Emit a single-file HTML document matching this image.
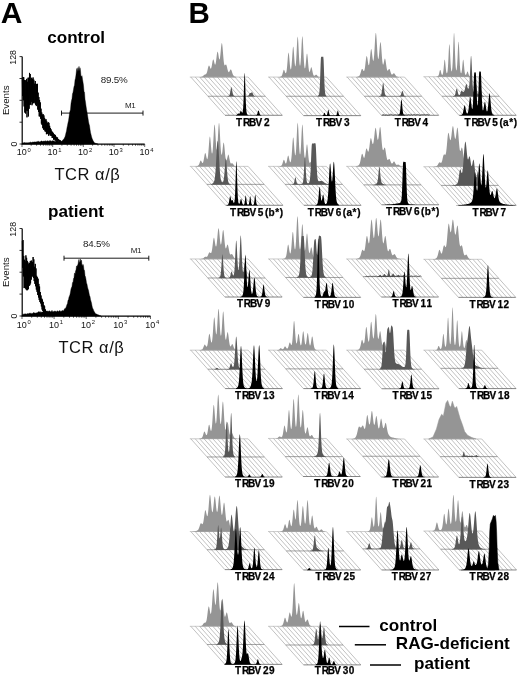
<!DOCTYPE html>
<html><head><meta charset="utf-8"><title>Figure</title>
<style>html,body{margin:0;padding:0;background:#fff}svg{display:block}text{font-family:'Liberation Sans', Arial, Helvetica, sans-serif}</style>
</head><body>
<svg width="520" height="677" viewBox="0 0 520 677" font-family="'Liberation Sans', Arial, Helvetica, sans-serif">
<rect width="520" height="677" fill="#fff"/>
<text x="0.7" y="23.1" font-size="30" font-weight="bold">A</text>
<text x="188.6" y="22.9" font-size="29.5" font-weight="bold">B</text>
<path d="M22.2 56.6V144.1H144.7" fill="none" stroke="#000" stroke-width="1.2"/>
<path d="M19.5 56.6H22M19.5 78.5H22M19.5 100.3H22M19.5 122.2H22M19.5 144.0H22" stroke="#000" stroke-width="0.8" fill="none"/>
<path d="M22.0 144v3M31.2 144v1.8M36.6 144v1.8M40.5 144v1.8M43.4 144v1.8M45.9 144v1.8M47.9 144v1.8M49.7 144v1.8M51.3 144v1.8M52.7 144v3M61.9 144v1.8M67.3 144v1.8M71.1 144v1.8M74.1 144v1.8M76.5 144v1.8M78.6 144v1.8M80.4 144v1.8M81.9 144v1.8M83.3 144v3M92.6 144v1.8M98.0 144v1.8M101.8 144v1.8M104.8 144v1.8M107.2 144v1.8M109.3 144v1.8M111.1 144v1.8M112.6 144v1.8M114.0 144v3M123.3 144v1.8M128.7 144v1.8M132.5 144v1.8M135.5 144v1.8M137.9 144v1.8M139.9 144v1.8M141.7 144v1.8M143.3 144v1.8M144.7 144v3" stroke="#000" stroke-width="0.6" fill="none"/>
<path d="M22.30 79.28 L22.66 96.04 L23.02 76.98 L23.38 100.32 L23.74 77.19 L24.10 106.44 L24.46 79.98 L24.82 112.57 L25.18 80.12 L25.54 113.47 L25.90 80.68 L26.26 110.68 L26.62 78.88 L26.98 117.33 L27.34 81.80 L27.70 110.96 L28.06 77.73 L28.42 116.45 L28.78 77.77 L29.14 108.77 L29.50 72.92 L29.86 105.06 L30.22 73.97 L30.58 104.52 L30.94 79.24 L31.30 101.94 L31.66 77.78 L32.02 105.24 L32.38 78.93 L32.74 103.77 L33.10 77.47 L33.46 102.96 L33.82 79.72 L34.18 102.27 L34.54 83.69 L34.90 103.31 L35.26 81.03 L35.62 104.77 L35.98 84.04 L36.34 106.09 L36.70 83.91 L37.06 104.71 L37.42 83.83 L37.78 109.61 L38.14 92.66 L38.50 111.86 L38.86 97.06 L39.22 116.36 L39.58 99.97 L39.94 116.45 L40.30 102.41 L40.66 118.78 L41.02 108.68 L41.38 123.62 L41.74 112.50 L42.10 125.04 L42.46 114.62 L42.82 128.19 L43.18 114.17 L43.54 129.59 L43.90 115.39 L44.26 129.58 L44.62 117.92 L44.98 131.35 L45.34 119.57 L45.70 131.61 L46.06 119.27 L46.42 134.23 L46.78 121.36 L47.14 133.58 L47.50 122.98 L47.86 134.11 L48.22 122.13 L48.58 135.68 L48.94 122.88 L49.30 133.86 L49.66 125.84 L50.02 135.38 L50.38 127.96 L50.74 135.65 L51.10 129.41 L51.46 136.00 L51.82 131.11 L52.18 137.96 L52.54 132.13 L52.90 137.80 L53.26 132.82 L53.62 139.66 L53.98 134.15 L54.34 139.33 L54.70 134.58 L55.06 140.46 L55.42 135.16 L55.78 140.81 L56.14 136.68 L56.50 140.64 L56.86 137.42 L57.22 141.56 L57.58 137.60 L57.94 141.14 L58.30 139.09 L58.66 141.46 L59.02 139.74 L59.38 141.80 L59.74 139.99 L60.10 141.89 L60.46 140.63 L60.82 142.15" fill="none" stroke="#000" stroke-width="1.0" stroke-linejoin="miter"/>
<path d="M22.00 144.00 L22.00 143.37 L22.50 143.06 L23.00 143.01 L23.50 142.84 L24.00 142.48 L24.50 142.47 L25.00 142.70 L25.50 142.78 L26.00 142.84 L26.50 142.75 L27.00 142.68 L27.50 142.79 L28.00 142.69 L28.50 142.64 L29.00 142.43 L29.50 142.54 L30.00 142.48 L30.50 142.07 L31.00 142.31 L31.50 142.52 L32.00 142.33 L32.50 142.04 L33.00 142.32 L33.50 142.12 L34.00 142.09 L34.50 141.88 L35.00 141.68 L35.50 142.07 L36.00 142.02 L36.50 141.73 L37.00 141.93 L37.50 141.39 L38.00 141.35 L38.50 141.34 L39.00 141.78 L39.50 141.74 L40.00 141.89 L40.50 141.60 L41.00 141.07 L41.50 140.90 L42.00 141.01 L42.50 141.59 L43.00 141.58 L43.50 141.03 L44.00 140.92 L44.50 140.96 L45.00 141.46 L45.50 140.68 L46.00 140.88 L46.50 141.29 L47.00 141.13 L47.50 140.65 L48.00 141.00 L48.50 140.91 L49.00 141.42 L49.50 140.54 L50.00 141.24 L50.50 140.52 L51.00 141.12 L51.50 141.45 L52.00 140.53 L52.50 140.86 L53.00 140.96 L53.50 140.79 L54.00 141.28 L54.50 141.21 L55.00 141.24 L55.50 141.23 L56.00 141.14 L56.50 140.81 L57.00 140.96 L57.50 140.99 L58.00 141.11 L58.50 141.14 L59.00 141.38 L59.50 141.30 L60.00 140.78 L60.50 141.15 L61.00 140.87 L61.50 141.34 L62.00 141.19 L62.50 140.37 L63.00 140.06 L63.50 139.30 L64.00 138.80 L64.50 137.83 L65.00 136.75 L65.50 134.88 L66.00 132.81 L66.50 131.01 L67.00 127.66 L67.50 125.49 L68.00 122.79 L68.50 120.81 L69.00 117.21 L69.50 113.34 L70.00 111.16 L70.50 109.57 L71.00 103.50 L71.50 100.43 L72.00 98.76 L72.50 93.69 L73.00 92.40 L73.50 89.51 L74.00 86.58 L74.50 85.19 L75.00 80.11 L75.50 78.28 L76.00 74.87 L76.50 69.93 L77.00 68.33 L77.50 71.78 L78.00 67.55 L78.50 71.53 L79.00 66.31 L79.50 71.19 L80.00 67.75 L80.50 70.59 L81.00 76.48 L81.50 76.25 L82.00 75.73 L82.50 79.32 L83.00 82.21 L83.50 85.51 L84.00 91.43 L84.50 92.18 L85.00 99.23 L85.50 102.15 L86.00 105.95 L86.50 109.16 L87.00 111.99 L87.50 114.98 L88.00 118.29 L88.50 121.43 L89.00 124.00 L89.50 125.52 L90.00 129.36 L90.50 132.40 L91.00 134.54 L91.50 136.42 L92.00 138.33 L92.50 139.35 L93.00 140.62 L93.50 141.37 L94.00 142.16 L94.50 142.76 L95.00 143.03 L95.50 143.26 L96.00 143.44 L96.50 143.51 L97.00 143.76 L97.50 143.88 L98.00 144.00 L98.00 144.00Z" fill="#000" stroke="#000" stroke-width="0.4"/>
<path d="M61.5 113.1H143M61.5 110.6v5M143 110.6v5" stroke="#000" stroke-width="0.9" fill="none"/>
<text x="100.8" y="82.5" font-size="9.8" fill="#222" textLength="27" lengthAdjust="spacing">89.5%</text>
<text x="125" y="108" font-size="8" fill="#222" textLength="10.6" lengthAdjust="spacing">M1</text>
<text x="47.2" y="43.2" font-size="17.1" font-weight="bold">control</text>
<text x="16.8" y="155.4" font-size="9" fill="#111">10<tspan dy="-3.6" dx="0.8" font-size="5.8">0</tspan></text>
<text x="47.5" y="155.4" font-size="9" fill="#111">10<tspan dy="-3.6" dx="0.8" font-size="5.8">1</tspan></text>
<text x="78.1" y="155.4" font-size="9" fill="#111">10<tspan dy="-3.6" dx="0.8" font-size="5.8">2</tspan></text>
<text x="108.8" y="155.4" font-size="9" fill="#111">10<tspan dy="-3.6" dx="0.8" font-size="5.8">3</tspan></text>
<text x="139.5" y="155.4" font-size="9" fill="#111">10<tspan dy="-3.6" dx="0.8" font-size="5.8">4</tspan></text>
<text x="54.5" y="180" font-size="16.5" fill="#111" textLength="65.3" lengthAdjust="spacing">TCR α/β</text>
<text transform="translate(16.2,57.4) rotate(-90)" text-anchor="middle" font-size="8.8" fill="#111">128</text>
<text transform="translate(16.5,144) rotate(-90)" text-anchor="middle" font-size="8.8" fill="#111">0</text>
<text transform="translate(8.7,100.3) rotate(-90)" text-anchor="middle" font-size="9.7" fill="#111">Events</text>
<path d="M22.2 228.5V316.1H150.5" fill="none" stroke="#000" stroke-width="1.2"/>
<path d="M19.5 228.5H22M19.5 250.4H22M19.5 272.2H22M19.5 294.1H22M19.5 316.0H22" stroke="#000" stroke-width="0.8" fill="none"/>
<path d="M22.0 316v3M31.7 316v1.8M37.3 316v1.8M41.3 316v1.8M44.5 316v1.8M47.0 316v1.8M49.1 316v1.8M51.0 316v1.8M52.7 316v1.8M54.1 316v3M63.8 316v1.8M69.5 316v1.8M73.5 316v1.8M76.6 316v1.8M79.1 316v1.8M81.3 316v1.8M83.1 316v1.8M84.8 316v1.8M86.2 316v3M95.9 316v1.8M101.6 316v1.8M105.6 316v1.8M108.7 316v1.8M111.2 316v1.8M113.4 316v1.8M115.3 316v1.8M116.9 316v1.8M118.4 316v3M128.0 316v1.8M133.7 316v1.8M137.7 316v1.8M140.8 316v1.8M143.4 316v1.8M145.5 316v1.8M147.4 316v1.8M149.0 316v1.8M150.5 316v3" stroke="#000" stroke-width="0.6" fill="none"/>
<path d="M22.30 241.06 L22.66 267.73 L23.02 240.05 L23.38 276.45 L23.74 255.88 L24.10 288.11 L24.46 259.76 L24.82 287.88 L25.18 261.26 L25.54 288.55 L25.90 255.37 L26.26 289.69 L26.62 257.82 L26.98 290.35 L27.34 260.91 L27.70 290.04 L28.06 262.50 L28.42 289.05 L28.78 264.16 L29.14 286.01 L29.50 263.03 L29.86 285.15 L30.22 261.32 L30.58 283.40 L30.94 260.77 L31.30 279.62 L31.66 260.61 L32.02 275.94 L32.38 262.02 L32.74 276.67 L33.10 257.01 L33.46 278.00 L33.82 259.33 L34.18 281.07 L34.54 266.80 L34.90 283.86 L35.26 263.88 L35.62 286.27 L35.98 268.41 L36.34 289.57 L36.70 275.82 L37.06 291.85 L37.42 277.27 L37.78 295.04 L38.14 278.70 L38.50 297.44 L38.86 283.91 L39.22 299.98 L39.58 286.54 L39.94 302.06 L40.30 292.06 L40.66 303.46 L41.02 295.48 L41.38 306.43 L41.74 298.53 L42.10 309.54 L42.46 299.54 L42.82 311.05 L43.18 301.87 L43.54 312.51 L43.90 305.02 L44.26 313.23 L44.62 306.27 L44.98 315.34 L45.34 309.37 L45.70 315.41 L46.06 311.03 L46.42 315.45 L46.78 312.95 L47.14 315.80 L47.50 314.65 L47.86 316.00" fill="none" stroke="#000" stroke-width="1.0" stroke-linejoin="miter"/>
<path d="M22.00 316.00 L22.00 314.96 L22.50 314.60 L23.00 314.51 L23.50 314.21 L24.00 313.77 L24.50 313.93 L25.00 314.17 L25.50 313.77 L26.00 313.90 L26.50 314.14 L27.00 313.61 L27.50 313.64 L28.00 313.67 L28.50 313.72 L29.00 313.35 L29.50 313.04 L30.00 313.82 L30.50 313.01 L31.00 313.41 L31.50 313.39 L32.00 313.41 L32.50 313.42 L33.00 312.75 L33.50 312.68 L34.00 312.47 L34.50 312.98 L35.00 312.90 L35.50 313.17 L36.00 312.71 L36.50 312.94 L37.00 312.54 L37.50 312.85 L38.00 312.07 L38.50 311.67 L39.00 311.78 L39.50 312.27 L40.00 311.38 L40.50 312.14 L41.00 312.32 L41.50 312.21 L42.00 311.87 L42.50 312.10 L43.00 311.75 L43.50 311.58 L44.00 310.88 L44.50 311.13 L45.00 310.81 L45.50 311.29 L46.00 311.05 L46.50 310.90 L47.00 311.77 L47.50 310.84 L48.00 311.35 L48.50 311.42 L49.00 310.64 L49.50 311.07 L50.00 311.16 L50.50 311.81 L51.00 311.46 L51.50 311.33 L52.00 310.37 L52.50 311.43 L53.00 311.80 L53.50 311.60 L54.00 311.67 L54.50 310.93 L55.00 310.88 L55.50 311.31 L56.00 311.44 L56.50 311.91 L57.00 310.71 L57.50 311.14 L58.00 310.81 L58.50 311.63 L59.00 311.37 L59.50 310.38 L60.00 310.89 L60.50 311.80 L61.00 310.64 L61.50 311.30 L62.00 311.18 L62.50 310.42 L63.00 310.29 L63.50 311.24 L64.00 310.01 L64.50 308.86 L65.00 308.59 L65.50 308.17 L66.00 307.53 L66.50 305.88 L67.00 304.46 L67.50 303.41 L68.00 300.18 L68.50 299.76 L69.00 296.95 L69.50 296.05 L70.00 294.53 L70.50 292.00 L71.00 289.03 L71.50 287.46 L72.00 286.44 L72.50 282.49 L73.00 282.80 L73.50 278.41 L74.00 277.70 L74.50 273.01 L75.00 274.50 L75.50 270.99 L76.00 270.01 L76.50 265.95 L77.00 266.87 L77.50 265.02 L78.00 264.33 L78.50 260.92 L79.00 259.31 L79.50 262.68 L80.00 261.41 L80.50 258.93 L81.00 262.12 L81.50 260.05 L82.00 265.48 L82.50 265.15 L83.00 264.36 L83.50 265.67 L84.00 270.41 L84.50 270.23 L85.00 275.80 L85.50 276.80 L86.00 279.42 L86.50 282.93 L87.00 284.21 L87.50 286.90 L88.00 288.97 L88.50 290.14 L89.00 292.97 L89.50 295.46 L90.00 296.53 L90.50 299.44 L91.00 301.23 L91.50 302.99 L92.00 305.77 L92.50 308.00 L93.00 308.84 L93.50 309.88 L94.00 311.50 L94.50 311.87 L95.00 312.95 L95.50 313.58 L96.00 314.09 L96.50 314.00 L97.00 314.33 L97.50 314.68 L98.00 314.41 L98.50 315.02 L99.00 315.25 L99.50 315.42 L100.00 315.64 L100.50 315.84 L101.00 316.00 L101.00 316.00Z" fill="#000" stroke="#000" stroke-width="0.4"/>
<path d="M64 258.2H148.8M64 255.7v5M148.8 255.7v5" stroke="#000" stroke-width="0.9" fill="none"/>
<text x="83" y="246.8" font-size="9.8" fill="#222" textLength="27" lengthAdjust="spacing">84.5%</text>
<text x="130.8" y="253" font-size="8" fill="#222" textLength="10.6" lengthAdjust="spacing">M1</text>
<text x="48" y="216.5" font-size="17.1" font-weight="bold">patient</text>
<text x="16.8" y="327.8" font-size="9" fill="#111">10<tspan dy="-3.6" dx="0.8" font-size="5.8">0</tspan></text>
<text x="48.9" y="327.8" font-size="9" fill="#111">10<tspan dy="-3.6" dx="0.8" font-size="5.8">1</tspan></text>
<text x="81.0" y="327.8" font-size="9" fill="#111">10<tspan dy="-3.6" dx="0.8" font-size="5.8">2</tspan></text>
<text x="113.2" y="327.8" font-size="9" fill="#111">10<tspan dy="-3.6" dx="0.8" font-size="5.8">3</tspan></text>
<text x="145.3" y="327.8" font-size="9" fill="#111">10<tspan dy="-3.6" dx="0.8" font-size="5.8">4</tspan></text>
<text x="58.5" y="353.2" font-size="16.5" fill="#111" textLength="65.3" lengthAdjust="spacing">TCR α/β</text>
<text transform="translate(16.2,229.3) rotate(-90)" text-anchor="middle" font-size="8.8" fill="#111">128</text>
<text transform="translate(16.5,316) rotate(-90)" text-anchor="middle" font-size="8.8" fill="#111">0</text>
<text transform="translate(8.7,272.2) rotate(-90)" text-anchor="middle" font-size="9.7" fill="#111">Events</text>
<path d="M200.0 77.4L200.0 77.0L200.3 76.9L200.6 76.9L200.9 76.9L201.2 76.8L201.5 76.8L201.8 76.7L202.1 76.6L202.4 76.4L202.7 76.2L203.0 76.0L203.3 75.7L203.6 75.4L203.9 75.1L204.2 74.9L204.5 74.7L204.8 74.5L205.1 74.5L205.4 74.4L205.7 74.3L206.0 74.1L206.3 73.8L206.6 73.3L206.9 72.5L207.2 71.4L207.5 70.2L207.8 68.8L208.1 67.5L208.4 66.4L208.7 65.7L209.0 65.4L209.3 65.7L209.6 66.3L209.9 67.1L210.2 67.9L210.5 68.5L210.8 68.7L211.1 68.4L211.4 67.5L211.7 66.2L212.0 64.5L212.3 62.7L212.6 61.1L212.9 59.9L213.2 59.4L213.5 59.6L213.8 60.4L214.1 61.6L214.4 62.9L214.7 64.1L215.0 64.7L215.3 64.6L215.6 63.8L215.9 62.2L216.2 60.0L216.5 57.4L216.8 55.0L217.1 53.0L217.4 51.8L217.7 51.7L218.0 52.5L218.3 54.1L218.6 56.0L218.9 57.9L219.2 59.2L219.5 59.6L219.8 59.0L220.1 57.3L220.4 54.6L220.7 51.4L221.0 48.0L221.3 45.2L221.6 43.4L221.9 43.0L222.2 44.2L222.5 46.8L222.8 50.3L223.1 54.1L223.4 57.8L223.7 60.9L224.0 63.2L224.3 64.7L224.6 65.3L224.9 65.4L225.2 65.1L225.5 64.7L225.8 64.5L226.1 64.5L226.4 65.0L226.7 65.9L227.0 67.1L227.3 68.4L227.6 69.7L227.9 70.8L228.2 71.6L228.5 72.0L228.8 72.2L229.1 72.0L229.4 71.5L229.7 70.9L230.0 70.3L230.3 69.8L230.6 69.5L230.9 69.5L231.2 69.8L231.5 70.5L231.8 71.3L232.1 72.3L232.4 73.2L232.7 74.0L233.0 74.7L233.3 75.2L233.6 75.6L233.9 75.9L234.2 76.2L234.5 76.3L234.8 76.5L235.1 76.6L235.4 76.7L235.7 76.8L236.0 76.8L236.3 76.9L236.3 77.4Z" fill="#959595"/>
<path d="M190.80 77.06L225.02 115.29M195.21 77.06L229.43 115.29M199.62 77.06L233.84 115.29M204.02 77.06L238.24 115.29M208.43 77.06L242.65 115.29M212.84 77.06L247.06 115.29M217.25 77.06L251.47 115.29M221.65 77.06L255.87 115.29M226.06 77.06L260.28 115.29M230.47 77.06L264.69 115.29M234.88 77.06L269.10 115.29M239.28 77.06L273.51 115.29M243.69 77.06L277.91 115.29M248.10 77.06L282.32 115.29" stroke="#8e8e8e" stroke-width="0.55" fill="none"/>
<path d="M189.8 77.06h58.3" stroke="#aaa" stroke-width="0.6" fill="none"/>
<path d="M207.99 96.26h57.3" stroke="#666" stroke-width="0.6" fill="none"/>
<path d="M225.02 115.29h57.3" stroke="#444" stroke-width="0.65" fill="none"/>
<path d="M227.4 96.6L227.4 96.2L227.7 96.1L228.0 96.1L228.3 96.0L228.6 95.9L228.9 95.7L229.2 95.4L229.5 94.9L229.8 94.0L230.1 92.7L230.4 91.0L230.7 89.2L231.0 87.8L231.3 87.1L231.6 87.4L231.9 88.7L232.2 90.4L232.5 92.1L232.8 93.6L233.1 94.6L233.4 95.3L233.7 95.6L234.0 95.8L234.3 96.0L234.6 96.0L234.9 96.1L235.2 96.2L235.5 96.2L235.8 96.2L236.1 96.2L236.4 96.2L236.7 96.3L237.0 96.3L237.3 96.3L237.6 96.3L237.9 96.3L238.2 96.3L238.5 96.3L238.8 96.3L239.1 96.3L239.4 96.3L239.7 96.3L240.0 96.3L240.3 96.3L240.6 96.3L240.9 96.3L241.2 96.3L241.5 96.3L241.8 96.3L242.1 96.3L242.4 96.3L242.7 96.3L243.0 96.3L243.3 96.3L243.6 96.3L243.9 96.3L244.2 96.3L244.5 96.3L244.8 96.3L245.1 96.3L245.4 96.3L245.7 96.2L246.0 96.2L246.3 96.2L246.6 96.2L246.9 96.2L247.2 96.1L247.5 96.1L247.8 96.0L248.1 95.8L248.4 95.6L248.7 95.2L249.0 94.7L249.3 94.0L249.6 93.5L249.9 93.1L250.2 92.9L250.5 92.9L250.8 92.9L251.1 92.8L251.4 92.6L251.7 92.4L252.0 92.3L252.3 92.4L252.6 92.9L252.9 93.7L253.2 94.4L253.5 95.0L253.8 95.5L254.1 95.8L254.4 96.0L254.7 96.1L255.0 96.1L255.3 96.2L255.3 96.6Z" fill="#585858"/>
<path d="M236.0 115.6L236.0 115.2L236.3 115.1L236.6 115.0L236.9 114.8L237.2 114.5L237.5 114.1L237.8 113.7L238.1 113.4L238.4 113.4L238.7 113.5L239.0 113.7L239.3 113.7L239.6 113.5L239.9 112.8L240.2 111.9L240.5 111.1L240.8 110.6L241.1 110.8L241.4 111.4L241.7 112.1L242.0 112.6L242.3 112.8L242.6 112.3L242.9 110.8L243.2 107.5L243.5 101.6L243.8 92.8L244.1 82.8L244.4 74.8L244.7 72.5L245.0 76.9L245.3 86.1L245.6 96.0L245.9 104.0L246.2 109.1L246.5 111.8L246.8 113.2L247.1 113.9L247.4 114.4L247.7 114.7L248.0 114.9L248.3 115.1L248.6 115.2L248.9 115.2L249.2 115.3L249.5 115.3L249.8 115.3L250.1 115.3L250.4 115.3L250.7 115.3L251.0 115.3L251.3 115.3L251.6 115.3L251.9 115.3L252.2 115.3L252.5 115.3L252.8 115.3L253.1 115.3L253.4 115.3L253.7 115.3L254.0 115.3L254.3 115.3L254.6 115.3L254.9 115.3L255.2 115.2L255.5 115.2L255.8 115.2L256.1 115.1L256.4 115.0L256.7 114.7L257.0 114.3L257.3 113.7L257.6 112.7L257.9 111.6L258.2 110.8L258.5 110.5L258.8 110.8L259.1 111.7L259.4 112.8L259.7 113.7L260.0 114.4L260.3 114.8L260.6 115.0L260.9 115.1L261.2 115.2L261.5 115.2L261.5 115.6Z" fill="#000000"/>
<text x="236.0 242.9 249.0 255.4 263.9" y="125.7" font-size="10" font-weight="bold" stroke="#000" stroke-width="0.25">TRBV2</text>
<path d="M279.1 77.4L279.1 77.0L279.4 76.9L279.7 76.9L280.0 76.8L280.3 76.8L280.6 76.7L280.9 76.5L281.2 76.4L281.5 76.1L281.8 75.7L282.1 75.1L282.4 74.2L282.7 73.1L283.0 72.0L283.3 70.9L283.6 70.1L283.9 69.8L284.2 70.0L284.5 70.7L284.8 71.6L285.1 72.4L285.4 73.1L285.7 73.3L286.0 73.1L286.3 72.3L286.6 70.9L286.9 68.6L287.2 65.4L287.5 61.7L287.8 57.7L288.1 54.5L288.4 52.7L288.7 52.8L289.0 54.7L289.3 57.9L289.6 61.6L289.9 64.9L290.2 67.5L290.5 69.1L290.8 69.6L291.1 68.9L291.4 67.1L291.7 64.1L292.0 60.1L292.3 55.4L292.6 50.9L292.9 47.7L293.2 46.4L293.5 47.6L293.8 50.7L294.1 55.0L294.4 59.4L294.7 63.0L295.0 65.4L295.3 66.4L295.6 65.8L295.9 63.6L296.2 59.7L296.5 54.4L296.8 48.2L297.1 42.3L297.4 38.1L297.7 36.6L298.0 38.2L298.3 42.6L298.6 48.4L298.9 54.5L299.2 59.7L299.5 63.4L299.8 65.5L300.1 65.8L300.4 64.6L300.7 61.6L301.0 57.1L301.3 51.2L301.6 45.0L301.9 39.6L302.2 36.5L302.5 36.4L302.8 39.5L303.1 44.9L303.4 51.3L303.7 57.4L304.0 62.4L304.3 65.9L304.6 67.9L304.9 68.5L305.2 67.9L305.5 66.1L305.8 63.4L306.1 60.1L306.4 56.8L306.7 54.3L307.0 53.4L307.3 54.2L307.6 56.7L307.9 60.1L308.2 63.8L308.5 67.1L308.8 69.6L309.1 71.2L309.4 71.9L309.7 71.8L310.0 71.2L310.3 70.1L310.6 68.9L310.9 67.8L311.2 67.2L311.5 67.3L311.8 68.2L312.1 69.5L312.4 71.1L312.7 72.6L313.0 73.8L313.3 74.7L313.6 75.3L313.9 75.7L314.2 75.8L314.5 75.8L314.8 75.6L315.1 75.4L315.4 75.1L315.7 74.8L316.0 74.7L316.3 74.7L316.6 74.8L316.9 75.2L317.2 75.6L317.5 75.9L317.8 76.3L318.1 76.5L318.4 76.7L318.7 76.8L319.0 76.9L319.3 76.9L319.6 76.9L319.9 77.0L319.9 77.4Z" fill="#959595"/>
<path d="M269.00 77.06L303.53 115.64M273.41 77.06L307.94 115.64M277.82 77.06L312.35 115.64M282.22 77.06L316.75 115.64M286.63 77.06L321.16 115.64M291.04 77.06L325.57 115.64M295.45 77.06L329.98 115.64M299.85 77.06L334.38 115.64M304.26 77.06L338.79 115.64M308.67 77.06L343.20 115.64M313.08 77.06L347.61 115.64M317.48 77.06L352.01 115.64M321.89 77.06L356.42 115.64M326.30 77.06L360.83 115.64" stroke="#8e8e8e" stroke-width="0.55" fill="none"/>
<path d="M268.0 77.06h58.3" stroke="#aaa" stroke-width="0.6" fill="none"/>
<path d="M286.19 96.26h57.3" stroke="#666" stroke-width="0.6" fill="none"/>
<path d="M303.53 115.64h57.3" stroke="#444" stroke-width="0.65" fill="none"/>
<path d="M317.6 96.6L317.6 96.0L317.9 95.8L318.2 95.6L318.5 95.2L318.8 94.7L319.1 93.8L319.4 92.0L319.7 88.6L320.0 82.6L320.3 74.1L320.6 64.9L320.9 58.2L321.2 56.8L321.5 56.8L321.8 56.8L322.1 56.8L322.4 56.8L322.7 56.8L323.0 56.8L323.3 56.8L323.6 60.0L323.9 67.9L324.2 77.1L324.5 84.9L324.8 90.0L325.1 92.8L325.4 94.2L325.7 94.9L326.0 95.4L326.3 95.7L326.6 95.9L326.6 96.6Z" fill="#585858"/>
<path d="M322.4 115.9L322.4 115.5L322.7 115.5L323.0 115.4L323.3 115.1L323.6 114.5L323.9 113.8L324.2 113.0L324.5 112.7L324.8 113.0L325.1 113.7L325.4 114.5L325.7 115.0L326.0 115.2L326.3 115.3L326.6 115.2L326.9 114.9L327.2 114.1L327.5 112.9L327.8 111.2L328.1 109.9L328.4 109.7L328.7 110.7L329.0 112.3L329.3 113.8L329.6 114.7L329.9 115.2L330.2 115.4L330.5 115.5L330.8 115.5L331.1 115.6L331.4 115.6L331.7 115.6L332.0 115.6L332.3 115.6L332.6 115.6L332.9 115.6L333.2 115.6L333.5 115.6L333.8 115.6L334.1 115.6L334.4 115.6L334.7 115.6L335.0 115.6L335.3 115.6L335.6 115.5L335.9 115.4L336.2 115.2L336.5 114.9L336.8 114.1L337.1 112.9L337.4 111.5L337.7 110.5L338.0 110.7L338.3 111.7L338.6 113.2L338.9 114.3L339.2 115.0L339.5 115.3L339.8 115.4L340.1 115.5L340.1 115.9Z" fill="#000000"/>
<text x="316.0 322.9 329.0 335.4 343.9" y="126.0" font-size="10" font-weight="bold" stroke="#000" stroke-width="0.25">TRBV3</text>
<path d="M356.5 77.4L356.5 76.9L356.8 76.9L357.1 76.8L357.4 76.8L357.7 76.7L358.0 76.6L358.3 76.5L358.6 76.3L358.9 76.1L359.2 75.9L359.5 75.5L359.8 75.0L360.1 74.3L360.4 73.5L360.7 72.5L361.0 71.4L361.3 70.3L361.6 69.5L361.9 69.0L362.2 68.9L362.5 69.1L362.8 69.6L363.1 70.3L363.4 70.8L363.7 71.1L364.0 71.1L364.3 70.6L364.6 69.5L364.9 67.9L365.2 65.7L365.5 63.1L365.8 60.5L366.1 58.2L366.4 56.6L366.7 55.9L367.0 56.4L367.3 57.7L367.6 59.7L367.9 61.8L368.2 63.6L368.5 64.9L368.8 65.3L369.1 64.7L369.4 63.2L369.7 60.8L370.0 57.8L370.3 54.6L370.6 51.7L370.9 49.8L371.2 49.0L371.5 49.6L371.8 51.4L372.1 54.0L372.4 56.7L372.7 59.1L373.0 60.6L373.3 61.1L373.6 60.2L373.9 58.0L374.2 54.4L374.5 49.7L374.8 44.4L375.1 39.3L375.4 35.2L375.7 32.9L376.0 32.9L376.3 35.2L376.6 39.2L376.9 44.2L377.2 49.3L377.5 53.8L377.8 57.0L378.1 58.8L378.4 59.1L378.7 57.9L379.0 55.4L379.3 52.1L379.6 48.5L379.9 45.1L380.2 42.8L380.5 42.1L380.8 43.1L381.1 45.8L381.4 49.5L381.7 53.7L382.0 57.7L382.3 61.0L382.6 63.3L382.9 64.5L383.2 64.7L383.5 64.0L383.8 62.8L384.1 61.2L384.4 59.7L384.7 58.7L385.0 58.5L385.3 59.2L385.6 60.7L385.9 62.7L386.2 64.9L386.5 67.0L386.8 68.8L387.1 70.0L387.4 70.6L387.7 70.8L388.0 70.5L388.3 70.1L388.6 69.5L388.9 69.1L389.2 68.9L389.5 69.1L389.8 69.6L390.1 70.4L390.4 71.4L390.7 72.4L391.0 73.3L391.3 73.9L391.6 74.4L391.9 74.6L392.2 74.6L392.5 74.4L392.8 74.1L393.1 73.8L393.4 73.5L393.7 73.3L394.0 73.3L394.3 73.4L394.6 73.7L394.9 74.2L395.2 74.7L395.5 75.2L395.8 75.6L396.1 76.0L396.4 76.2L396.7 76.4L397.0 76.6L397.3 76.7L397.6 76.8L397.9 76.8L398.2 76.9L398.5 76.9L398.8 76.9L399.1 77.0L399.1 77.4Z" fill="#959595"/>
<path d="M347.20 77.06L381.42 115.29M351.61 77.06L385.83 115.29M356.02 77.06L390.24 115.29M360.42 77.06L394.64 115.29M364.83 77.06L399.05 115.29M369.24 77.06L403.46 115.29M373.65 77.06L407.87 115.29M378.05 77.06L412.27 115.29M382.46 77.06L416.68 115.29M386.87 77.06L421.09 115.29M391.28 77.06L425.50 115.29M395.68 77.06L429.91 115.29M400.09 77.06L434.31 115.29M404.50 77.06L438.72 115.29" stroke="#8e8e8e" stroke-width="0.55" fill="none"/>
<path d="M346.2 77.06h58.3" stroke="#aaa" stroke-width="0.6" fill="none"/>
<path d="M364.39 96.26h57.3" stroke="#666" stroke-width="0.6" fill="none"/>
<path d="M381.42 115.29h57.3" stroke="#444" stroke-width="0.65" fill="none"/>
<path d="M378.9 96.6L378.9 96.2L379.2 96.1L379.5 96.1L379.8 96.0L380.1 95.9L380.4 95.7L380.7 95.4L381.0 95.0L381.3 94.2L381.6 92.9L381.9 91.0L382.2 88.5L382.5 85.9L382.8 83.8L383.1 82.8L383.4 83.3L383.7 85.1L384.0 87.6L384.3 90.2L384.6 92.3L384.9 93.8L385.2 94.8L385.5 95.3L385.8 95.6L386.1 95.8L386.4 95.9L386.7 96.0L387.0 96.1L387.3 96.2L387.6 96.2L387.9 96.2L388.2 96.2L388.5 96.2L388.8 96.3L389.1 96.3L389.4 96.3L389.7 96.3L390.0 96.3L390.3 96.3L390.6 96.3L390.9 96.3L391.2 96.3L391.5 96.3L391.8 96.3L392.1 96.3L392.4 96.3L392.7 96.3L393.0 96.3L393.3 96.3L393.6 96.3L393.9 96.3L394.2 96.3L394.5 96.3L394.8 96.3L395.1 96.3L395.4 96.3L395.7 96.3L396.0 96.3L396.3 96.3L396.6 96.3L396.9 96.3L397.2 96.3L397.5 96.2L397.8 96.2L398.1 96.2L398.4 96.2L398.7 96.2L399.0 96.2L399.3 96.1L399.6 96.0L399.9 95.9L400.2 95.8L400.5 95.5L400.8 94.9L401.1 94.2L401.4 93.2L401.7 92.2L402.0 91.3L402.3 90.9L402.6 91.1L402.9 91.8L403.2 92.8L403.5 93.8L403.8 94.7L404.1 95.3L404.4 95.7L404.7 95.9L405.0 96.0L405.3 96.1L405.6 96.1L405.9 96.2L405.9 96.6Z" fill="#585858"/>
<path d="M397.7 115.6L397.7 115.2L398.0 115.1L398.3 115.0L398.6 114.9L398.9 114.7L399.2 114.4L399.5 113.9L399.8 112.9L400.1 111.2L400.4 108.4L400.7 105.0L401.0 101.6L401.3 99.5L401.6 99.5L401.9 101.6L402.2 105.0L402.5 108.4L402.8 111.2L403.1 112.9L403.4 113.9L403.7 114.4L404.0 114.7L404.3 114.9L404.6 115.0L404.9 115.1L405.2 115.2L405.2 115.6Z" fill="#000000"/>
<path d="M381.9 115.3L382.6 114.97L383.3 114.93L384.0 114.51L384.7 115.22L385.4 115.10L386.1 114.54L386.8 115.05L387.5 115.23L388.2 115.26L388.9 114.74L389.6 114.97L390.3 114.31L391.0 114.41L391.7 114.31L392.4 115.03L393.1 115.21L393.8 115.20L394.5 114.80L395.2 114.58L395.9 114.85L396.6 115.06L397.3 114.88L398.0 114.67L398.7 114.62L399.4 114.55L400.1 114.45L400.8 114.63L401.5 115.17L402.2 114.45L402.9 115.00L403.6 114.73L404.3 114.92L405.0 114.56L405.7 115.09L406.4 115.05L407.1 115.05L407.8 115.14L408.5 114.41L409.2 114.72L409.9 114.97L410.6 114.90L411.3 114.30L412.0 114.79L412.7 115.06L413.4 114.49L414.1 114.64L414.8 114.30L415.5 115.19L416.2 114.82L416.9 114.48L417.6 114.45L418.3 114.38L419.0 115.25L419.7 115.00L420.4 115.17L421.1 115.10L421.8 114.32L422.5 114.71L423.2 114.36L423.9 114.92L424.6 114.43L425.3 114.85L426.0 115.03L426.7 114.52L427.4 114.35L428.1 115.19L428.8 114.70L429.5 114.67" fill="none" stroke="#333" stroke-width="0.7"/>
<text x="394.7 401.7 407.7 414.2 422.6" y="125.7" font-size="10" font-weight="bold" stroke="#000" stroke-width="0.25">TRBV4</text>
<path d="M436.5 77.0L436.5 76.6L436.8 76.6L437.1 76.5L437.4 76.4L437.7 76.3L438.0 76.1L438.3 75.8L438.6 75.3L438.9 74.4L439.2 73.2L439.5 71.8L439.8 70.5L440.1 69.9L440.4 70.0L440.7 70.8L441.0 72.0L441.3 73.3L441.6 74.2L441.9 74.8L442.2 75.0L442.5 74.8L442.8 74.1L443.1 72.8L443.4 70.7L443.7 67.7L444.0 64.3L444.3 61.2L444.6 59.5L444.9 59.9L445.2 62.0L445.5 65.2L445.8 68.5L446.1 71.0L446.4 72.6L446.7 73.3L447.0 73.3L447.3 72.6L447.6 70.9L447.9 67.8L448.2 63.0L448.5 56.8L448.8 50.3L449.1 45.5L449.4 43.9L449.7 46.1L450.0 51.4L450.3 57.8L450.6 63.6L450.9 67.9L451.2 70.3L451.5 71.4L451.8 71.3L452.1 70.0L452.4 67.1L452.7 62.1L453.0 54.8L453.3 46.1L453.6 38.0L453.9 33.2L454.2 33.3L454.5 38.4L454.8 46.5L455.1 55.1L455.4 62.2L455.7 67.0L456.0 69.6L456.3 70.6L456.6 70.1L456.9 68.1L457.2 64.3L457.5 58.7L457.8 51.8L458.1 45.5L458.4 41.7L458.7 41.9L459.0 46.1L459.3 52.7L459.6 59.7L459.9 65.5L460.2 69.5L460.5 71.8L460.8 72.9L461.1 73.3L461.4 72.9L461.7 71.6L462.0 69.4L462.3 66.4L462.6 63.1L462.9 60.5L463.2 59.4L463.5 60.4L463.8 63.1L464.1 66.5L464.4 69.7L464.7 72.2L465.0 73.8L465.3 74.6L465.6 75.0L465.9 74.9L466.2 74.5L466.5 73.8L466.8 72.9L467.1 72.1L467.4 71.6L467.7 71.6L468.0 72.3L468.3 73.3L468.6 74.3L468.9 75.1L469.2 75.7L469.5 76.1L469.8 76.3L470.1 76.4L470.4 76.5L470.7 76.6L471.0 76.6L471.0 77.0Z" fill="#959595"/>
<path d="M424.40 76.71L458.93 115.29M428.81 76.71L463.34 115.29M433.22 76.71L467.75 115.29M437.62 76.71L472.15 115.29M442.03 76.71L476.56 115.29M446.44 76.71L480.97 115.29M450.85 76.71L485.38 115.29M455.25 76.71L489.78 115.29M459.66 76.71L494.19 115.29M464.07 76.71L498.60 115.29M468.48 76.71L503.01 115.29M472.88 76.71L507.41 115.29M477.29 76.71L511.82 115.29M481.70 76.71L516.23 115.29" stroke="#8e8e8e" stroke-width="0.55" fill="none"/>
<path d="M423.4 76.71h58.3" stroke="#aaa" stroke-width="0.6" fill="none"/>
<path d="M441.90 96.26h57.3" stroke="#666" stroke-width="0.6" fill="none"/>
<path d="M458.93 115.29h57.3" stroke="#444" stroke-width="0.65" fill="none"/>
<path d="M452.9 96.6L452.9 96.2L453.2 96.1L453.5 96.1L453.8 96.0L454.1 95.9L454.4 95.7L454.7 95.4L455.0 94.8L455.3 93.9L455.6 92.6L455.9 91.1L456.2 89.7L456.5 88.7L456.8 88.5L457.1 89.1L457.4 90.3L457.7 91.8L458.0 93.1L458.3 94.1L458.6 94.7L458.9 95.0L459.2 95.1L459.5 95.0L459.8 94.7L460.1 94.2L460.4 93.5L460.7 92.6L461.0 91.6L461.3 90.9L461.6 90.5L461.9 90.6L462.2 90.9L462.5 91.4L462.8 91.8L463.1 92.1L463.4 92.1L463.7 92.0L464.0 91.6L464.3 91.1L464.6 90.3L464.9 89.2L465.2 87.8L465.5 86.3L465.8 85.0L466.1 84.1L466.4 84.0L466.7 84.6L467.0 85.6L467.3 86.8L467.6 87.7L467.9 88.4L468.2 88.7L468.5 88.6L468.8 87.9L469.1 86.5L469.4 83.9L469.7 79.6L470.0 73.6L470.3 66.6L470.6 60.2L470.9 56.2L471.2 56.1L471.5 59.9L471.8 66.5L472.1 74.1L472.4 80.8L472.7 85.9L473.0 89.2L473.3 91.1L473.6 91.9L473.9 91.8L474.2 91.1L474.5 89.5L474.8 87.2L475.1 84.8L475.4 82.8L475.7 81.9L476.0 82.5L476.3 84.4L476.6 87.0L476.9 89.7L477.2 91.8L477.5 93.3L477.8 94.1L478.1 94.4L478.4 94.2L478.7 93.5L479.0 92.3L479.3 90.8L479.6 89.1L479.9 87.7L480.2 87.1L480.5 87.5L480.8 88.7L481.1 90.4L481.4 92.2L481.7 93.6L482.0 94.6L482.3 95.3L482.6 95.6L482.9 95.8L483.2 96.0L483.5 96.0L483.8 96.1L484.1 96.2L484.1 96.6Z" fill="#585858"/>
<path d="M460.2 115.6L460.2 115.2L460.5 115.2L460.8 115.1L461.1 115.0L461.4 115.0L461.7 114.8L462.0 114.6L462.3 114.3L462.6 113.7L462.9 112.9L463.2 111.6L463.5 110.1L463.8 108.3L464.1 106.7L464.4 105.6L464.7 105.3L465.0 105.8L465.3 107.1L465.6 108.7L465.9 110.3L466.2 111.7L466.5 112.7L466.8 113.3L467.1 113.5L467.4 113.4L467.7 113.0L468.0 112.2L468.3 110.8L468.6 108.8L468.9 106.2L469.2 103.2L469.5 100.2L469.8 97.9L470.1 96.7L470.4 96.9L470.7 98.5L471.0 101.0L471.3 103.8L471.6 106.3L471.9 108.2L472.2 109.0L472.5 108.5L472.8 105.9L473.1 100.7L473.4 92.8L473.7 83.6L474.0 75.8L474.3 72.3L474.6 72.4L474.9 72.4L475.2 72.4L475.5 72.3L475.8 72.4L476.1 76.4L476.4 84.5L476.7 93.4L477.0 100.6L477.3 104.8L477.6 105.7L477.9 103.4L478.2 97.7L478.5 89.4L478.8 80.2L479.1 73.3L479.4 71.3L479.7 71.5L480.0 71.5L480.3 71.5L480.6 71.5L480.9 72.3L481.2 78.0L481.5 87.0L481.8 96.2L482.1 103.4L482.4 107.8L482.7 109.9L483.0 110.4L483.3 109.8L483.6 108.4L483.9 106.4L484.2 104.4L484.5 102.7L484.8 101.8L485.1 102.1L485.4 103.3L485.7 105.3L486.0 107.4L486.3 109.3L486.6 110.7L486.9 111.4L487.2 111.3L487.5 110.4L487.8 108.7L488.1 106.1L488.4 102.8L488.7 99.2L489.0 96.0L489.3 93.8L489.6 93.2L489.9 94.3L490.2 96.9L490.5 100.4L490.8 104.0L491.1 107.3L491.4 109.9L491.7 111.7L492.0 112.9L492.3 113.7L492.6 114.2L492.9 114.5L493.2 114.7L493.5 114.8L493.8 114.9L494.1 115.0L494.4 115.1L494.4 115.6Z" fill="#000000"/>
<text x="464.4 471.4 477.4 483.9 492.3 499.4 503.1 509.2 513.8" y="125.7" font-size="10" font-weight="bold" stroke="#000" stroke-width="0.25">TRBV5(a*)</text>
<path d="M196.0 166.7L196.0 166.3L196.3 166.2L196.6 166.2L196.9 166.1L197.2 166.0L197.5 165.9L197.8 165.8L198.1 165.6L198.4 165.3L198.7 164.9L199.0 164.4L199.3 163.7L199.6 162.9L199.9 162.0L200.2 161.3L200.5 160.8L200.8 160.6L201.1 160.8L201.4 161.3L201.7 161.9L202.0 162.5L202.3 162.9L202.6 163.0L202.9 162.8L203.2 162.2L203.5 161.1L203.8 159.6L204.1 157.8L204.4 155.9L204.7 154.3L205.0 153.2L205.3 152.9L205.6 153.4L205.9 154.6L206.2 156.1L206.5 157.5L206.8 158.6L207.1 159.2L207.4 159.0L207.7 158.0L208.0 156.2L208.3 153.3L208.6 149.6L208.9 145.4L209.2 141.3L209.5 138.1L209.8 136.5L210.1 136.9L210.4 139.0L210.7 142.4L211.0 146.2L211.3 149.6L211.6 152.2L211.9 153.5L212.2 153.6L212.5 152.2L212.8 149.4L213.1 145.1L213.4 139.8L213.7 134.0L214.0 128.8L214.3 125.3L214.6 124.4L214.9 126.1L215.2 130.1L215.5 135.3L215.8 140.7L216.1 145.2L216.4 148.3L216.7 149.7L217.0 149.2L217.3 146.9L217.6 142.9L217.9 137.6L218.2 131.9L218.5 126.7L218.8 123.4L219.1 122.7L219.4 124.9L219.7 129.4L220.0 135.3L220.3 141.4L220.6 146.8L220.9 150.9L221.2 153.5L221.5 154.7L221.8 154.7L222.1 153.5L222.4 151.4L222.7 148.6L223.0 145.8L223.3 143.6L223.6 142.5L223.9 142.9L224.2 144.8L224.5 147.7L224.8 151.1L225.1 154.3L225.4 156.9L225.7 158.8L226.0 160.0L226.3 160.4L226.6 160.2L226.9 159.5L227.2 158.3L227.5 156.9L227.8 155.7L228.1 154.8L228.4 154.6L228.7 155.2L229.0 156.3L229.3 157.9L229.6 159.6L229.9 161.1L230.2 162.2L230.5 163.0L230.8 163.4L231.1 163.5L231.4 163.4L231.7 163.3L232.0 163.2L232.3 163.2L232.6 163.4L232.9 163.7L233.2 164.2L233.5 164.6L233.8 165.0L234.1 165.4L234.4 165.7L234.7 165.9L235.0 166.0L235.3 166.1L235.6 166.1L235.9 166.2L236.2 166.2L236.5 166.3L236.5 166.7Z" fill="#959595"/>
<path d="M190.80 166.37L225.64 205.29M195.21 166.37L230.05 205.29M199.62 166.37L234.46 205.29M204.02 166.37L238.86 205.29M208.43 166.37L243.27 205.29M212.84 166.37L247.68 205.29M217.25 166.37L252.09 205.29M221.65 166.37L256.49 205.29M226.06 166.37L260.90 205.29M230.47 166.37L265.31 205.29M234.88 166.37L269.72 205.29M239.28 166.37L274.12 205.29M243.69 166.37L278.53 205.29M248.10 166.37L282.94 205.29" stroke="#8e8e8e" stroke-width="0.55" fill="none"/>
<path d="M189.8 166.37h58.3" stroke="#aaa" stroke-width="0.6" fill="none"/>
<path d="M206.90 184.36h57.3" stroke="#666" stroke-width="0.6" fill="none"/>
<path d="M225.64 205.29h57.3" stroke="#444" stroke-width="0.65" fill="none"/>
<path d="M211.2 184.7L211.2 184.1L211.5 184.0L211.8 183.9L212.1 183.7L212.4 183.6L212.7 183.4L213.0 183.1L213.3 182.8L213.6 182.4L213.9 181.8L214.2 181.0L214.5 179.9L214.8 178.2L215.1 175.8L215.4 172.7L215.7 168.6L216.0 163.7L216.3 158.3L216.6 152.7L216.9 147.6L217.2 143.6L217.5 141.2L217.8 140.9L218.1 142.6L218.4 146.1L218.7 150.9L219.0 156.4L219.3 161.9L219.6 167.0L219.9 171.4L220.2 174.8L220.5 177.4L220.8 179.2L221.1 180.5L221.4 181.3L221.7 181.8L222.0 182.1L222.3 182.2L222.6 182.2L222.9 182.0L223.2 181.5L223.5 180.6L223.8 179.1L224.1 176.7L224.4 173.5L224.7 169.5L225.0 165.2L225.3 161.5L225.6 159.0L225.9 158.5L226.2 160.0L226.5 163.2L226.8 167.3L227.1 171.6L227.4 175.3L227.7 178.3L228.0 180.4L228.3 181.7L228.6 182.6L228.9 183.1L229.2 183.4L229.5 183.7L229.8 183.8L230.1 184.0L230.4 184.1L230.7 184.1L230.7 184.7Z" fill="#585858"/>
<path d="M226.7 205.6L226.7 205.2L227.0 205.1L227.3 205.1L227.6 205.0L227.9 204.8L228.2 204.5L228.5 204.0L228.8 203.0L229.1 201.4L229.4 199.5L229.7 197.6L230.0 196.3L230.3 196.2L230.6 197.2L230.9 198.6L231.2 199.9L231.5 200.5L231.8 200.4L232.1 200.0L232.4 199.9L232.7 200.3L233.0 201.1L233.3 202.0L233.6 202.7L233.9 202.9L234.2 202.6L234.5 201.5L234.8 199.0L235.1 194.1L235.4 186.1L235.7 175.9L236.0 166.2L236.3 160.9L236.6 162.6L236.9 170.5L237.2 181.0L237.5 190.4L237.8 196.9L238.1 200.6L238.4 202.4L238.7 203.3L239.0 203.7L239.3 203.7L239.6 203.4L239.9 202.6L240.2 201.4L240.5 200.1L240.8 199.0L241.1 198.7L241.4 199.4L241.7 200.6L242.0 202.0L242.3 203.3L242.6 204.1L242.9 204.5L243.2 204.7L243.5 204.8L243.8 204.7L244.1 204.4L244.4 203.7L244.7 202.3L245.0 200.0L245.3 197.2L245.6 195.4L245.9 195.7L246.2 197.8L246.5 200.5L246.8 202.7L247.1 204.0L247.4 204.5L247.7 204.8L248.0 204.8L248.3 204.8L248.6 204.5L248.9 203.9L249.2 202.6L249.5 200.4L249.8 197.9L250.1 196.3L250.4 196.5L250.7 198.4L251.0 200.9L251.3 202.9L251.6 204.1L251.9 204.6L252.2 204.9L252.5 205.0L252.8 205.0L253.1 204.9L253.4 204.7L253.7 204.3L254.0 203.4L254.3 201.6L254.6 198.9L254.9 196.1L255.2 194.8L255.5 195.6L255.8 198.2L256.1 201.0L256.4 203.1L256.7 204.2L257.0 204.7L257.3 204.9L257.6 205.1L257.9 205.2L257.9 205.6Z" fill="#000000"/>
<text x="229.9 236.9 242.9 249.4 257.8 264.9 268.6 275.2 279.8" y="215.7" font-size="10" font-weight="bold" stroke="#000" stroke-width="0.25">TRBV5(b*)</text>
<path d="M279.4 166.7L279.4 166.3L279.7 166.2L280.0 166.2L280.3 166.1L280.6 166.0L280.9 165.9L281.2 165.7L281.5 165.5L281.8 165.1L282.1 164.5L282.4 163.8L282.7 162.8L283.0 161.7L283.3 160.7L283.6 160.0L283.9 159.8L284.2 160.1L284.5 160.7L284.8 161.6L285.1 162.5L285.4 163.2L285.7 163.5L286.0 163.5L286.3 163.0L286.6 162.1L286.9 160.8L287.2 159.1L287.5 157.5L287.8 156.2L288.1 155.5L288.4 155.7L288.7 156.6L289.0 158.0L289.3 159.5L289.6 160.8L289.9 161.8L290.2 162.2L290.5 162.2L290.8 161.6L291.1 160.3L291.4 158.1L291.7 155.0L292.0 150.9L292.3 146.2L292.6 141.8L292.9 138.6L293.2 137.3L293.5 138.3L293.8 141.2L294.1 145.2L294.4 149.3L294.7 152.6L295.0 154.8L295.3 155.6L295.6 154.7L295.9 152.2L296.2 147.9L296.5 142.0L296.8 135.3L297.1 128.9L297.4 124.2L297.7 122.6L298.0 124.4L298.3 129.1L298.6 135.4L298.9 142.0L299.2 147.7L299.5 151.8L299.8 154.0L300.1 154.6L300.4 153.4L300.7 150.4L301.0 145.8L301.3 139.8L301.6 133.4L301.9 128.0L302.2 124.8L302.5 124.7L302.8 127.9L303.1 133.4L303.4 140.0L303.7 146.4L304.0 151.5L304.3 155.1L304.6 157.2L304.9 157.9L305.2 157.5L305.5 155.9L305.8 153.5L306.1 150.4L306.4 147.4L306.7 145.1L307.0 144.2L307.3 145.0L307.6 147.4L307.9 150.7L308.2 154.3L308.5 157.4L308.8 159.9L309.1 161.5L309.4 162.5L309.7 162.9L310.0 162.8L310.3 162.5L310.6 162.1L310.9 161.7L311.2 161.5L311.5 161.6L311.8 162.1L312.1 162.8L312.4 163.5L312.7 164.3L313.0 164.9L313.3 165.3L313.6 165.7L313.9 165.9L314.2 166.0L314.5 166.1L314.8 166.2L315.1 166.2L315.4 166.3L315.7 166.3L315.7 166.7Z" fill="#959595"/>
<path d="M269.00 166.37L303.84 205.29M273.41 166.37L308.25 205.29M277.82 166.37L312.66 205.29M282.22 166.37L317.06 205.29M286.63 166.37L321.47 205.29M291.04 166.37L325.88 205.29M295.45 166.37L330.29 205.29M299.85 166.37L334.69 205.29M304.26 166.37L339.10 205.29M308.67 166.37L343.51 205.29M313.08 166.37L347.92 205.29M317.48 166.37L352.32 205.29M321.89 166.37L356.73 205.29M326.30 166.37L361.14 205.29" stroke="#8e8e8e" stroke-width="0.55" fill="none"/>
<path d="M268.0 166.37h58.3" stroke="#aaa" stroke-width="0.6" fill="none"/>
<path d="M285.10 184.36h57.3" stroke="#666" stroke-width="0.6" fill="none"/>
<path d="M303.84 205.29h57.3" stroke="#444" stroke-width="0.65" fill="none"/>
<path d="M292.2 184.7L292.2 184.3L292.5 184.2L292.8 184.2L293.1 184.1L293.4 183.9L293.7 183.6L294.0 182.9L294.3 181.8L294.6 180.3L294.9 178.6L295.2 177.4L295.5 177.2L295.8 178.1L296.1 179.7L296.4 181.4L296.7 182.6L297.0 183.4L297.3 183.8L297.6 184.0L297.9 184.1L298.2 184.2L298.5 184.3L298.8 184.3L299.1 184.3L299.4 184.3L299.7 184.3L300.0 184.3L300.3 184.3L300.6 184.3L300.9 184.2L301.2 184.2L301.5 184.0L301.8 183.9L302.1 183.7L302.4 183.4L302.7 182.8L303.0 181.9L303.3 180.1L303.6 176.9L303.9 172.2L304.2 166.3L304.5 160.7L304.8 157.5L305.1 157.9L305.4 161.8L305.7 167.6L306.0 173.4L306.3 177.7L306.6 180.5L306.9 182.0L307.2 182.8L307.5 183.2L307.8 183.3L308.1 183.4L308.4 183.3L308.7 183.1L309.0 182.8L309.3 182.2L309.6 181.2L309.9 179.6L310.2 176.8L310.5 172.5L310.8 166.4L311.1 159.1L311.4 151.7L311.7 146.0L312.0 143.5L312.3 143.4L312.6 143.4L312.9 143.4L313.2 143.4L313.5 143.4L313.8 143.4L314.1 143.3L314.4 143.3L314.7 143.3L315.0 143.2L315.3 143.2L315.6 143.7L315.9 147.6L316.2 154.1L316.5 161.5L316.8 168.3L317.1 173.5L317.4 177.0L317.7 179.1L318.0 180.2L318.3 180.8L318.6 181.1L318.9 181.2L319.2 181.2L319.5 181.2L319.8 181.1L320.1 181.1L320.4 181.0L320.7 180.9L321.0 180.9L321.3 180.9L321.6 180.9L321.9 181.0L322.2 181.1L322.5 181.2L322.8 181.4L323.1 181.6L323.4 181.8L323.7 182.0L324.0 182.3L324.3 182.5L324.6 182.7L324.9 182.9L325.2 183.1L325.5 183.3L325.8 183.5L326.1 183.6L326.4 183.7L326.7 183.8L327.0 183.9L327.3 184.0L327.6 184.0L327.9 184.1L328.2 184.1L328.5 184.1L328.8 184.2L329.1 184.2L329.4 184.2L329.7 184.2L330.0 184.2L330.3 184.3L330.6 184.3L330.9 184.3L330.9 184.7Z" fill="#585858"/>
<path d="M315.4 205.6L315.4 205.2L315.7 205.1L316.0 205.0L316.3 204.9L316.6 204.7L316.9 204.4L317.2 203.9L317.5 203.3L317.8 202.3L318.1 200.8L318.4 198.5L318.7 195.2L319.0 191.6L319.3 188.4L319.6 186.7L319.9 187.2L320.2 189.7L320.5 193.3L320.8 196.8L321.1 199.4L321.4 200.7L321.7 200.8L322.0 199.8L322.3 198.1L322.6 196.1L322.9 194.7L323.2 194.4L323.5 195.4L323.8 197.3L324.1 199.4L324.4 201.4L324.7 202.7L325.0 203.5L325.3 203.9L325.6 204.0L325.9 203.9L326.2 203.7L326.5 203.4L326.8 202.9L327.1 202.0L327.4 200.7L327.7 198.7L328.0 195.6L328.3 191.4L328.6 186.1L328.9 180.0L329.2 173.7L329.5 168.3L329.8 164.6L330.1 163.2L330.4 164.5L330.7 167.8L331.0 172.4L331.3 176.9L331.6 180.3L331.9 181.8L332.2 181.0L332.5 177.9L332.8 173.4L333.1 168.4L333.4 164.1L333.7 161.7L334.0 161.9L334.3 164.8L334.6 169.8L334.9 176.1L335.2 182.7L335.5 188.6L335.8 193.5L336.1 197.2L336.4 199.8L336.7 201.5L337.0 202.6L337.3 203.3L337.6 203.8L337.9 204.1L338.2 204.4L338.5 204.6L338.8 204.8L339.1 204.9L339.1 205.6Z" fill="#000000"/>
<text x="307.8 314.8 320.8 327.3 335.7 342.8 346.5 352.6 357.2" y="215.7" font-size="10" font-weight="bold" stroke="#000" stroke-width="0.25">TRBV6(a*)</text>
<path d="M355.9 166.7L355.9 166.3L356.2 166.2L356.5 166.2L356.8 166.1L357.1 166.0L357.4 165.9L357.7 165.8L358.0 165.6L358.3 165.4L358.6 165.2L358.9 164.9L359.2 164.5L359.5 163.9L359.8 163.2L360.1 162.2L360.4 160.9L360.7 159.4L361.0 157.8L361.3 156.2L361.6 154.8L361.9 154.0L362.2 153.7L362.5 154.0L362.8 154.8L363.1 155.8L363.4 156.8L363.7 157.6L364.0 157.9L364.3 157.7L364.6 156.9L364.9 155.6L365.2 154.0L365.5 152.2L365.8 150.5L366.1 149.2L366.4 148.5L366.7 148.5L367.0 149.0L367.3 149.9L367.6 150.8L367.9 151.6L368.2 151.8L368.5 151.5L368.8 150.5L369.1 148.8L369.4 146.7L369.7 144.2L370.0 141.8L370.3 139.7L370.6 138.4L370.9 138.0L371.2 138.4L371.5 139.5L371.8 140.9L372.1 142.3L372.4 143.4L372.7 144.0L373.0 144.0L373.3 143.3L373.6 141.9L373.9 139.8L374.2 137.2L374.5 134.4L374.8 131.6L375.1 129.4L375.4 128.0L375.7 127.8L376.0 128.8L376.3 130.7L376.6 133.1L376.9 135.6L377.2 137.7L377.5 139.2L377.8 139.9L378.1 139.6L378.4 138.5L378.7 136.5L379.0 133.9L379.3 131.2L379.6 128.7L379.9 127.2L380.2 126.9L380.5 128.1L380.8 130.6L381.1 134.1L381.4 138.0L381.7 141.8L382.0 145.0L382.3 147.6L382.6 149.3L382.9 150.1L383.2 150.3L383.5 149.9L383.8 149.2L384.1 148.3L384.4 147.7L384.7 147.5L385.0 147.9L385.3 149.0L385.6 150.7L385.9 152.7L386.2 154.8L386.5 156.6L386.8 158.1L387.1 159.2L387.4 159.8L387.7 160.0L388.0 160.0L388.3 159.7L388.6 159.3L388.9 159.0L389.2 158.9L389.5 159.0L389.8 159.5L390.1 160.2L390.4 161.0L390.7 161.8L391.0 162.6L391.3 163.1L391.6 163.5L391.9 163.6L392.2 163.5L392.5 163.3L392.8 162.9L393.1 162.4L393.4 162.0L393.7 161.6L394.0 161.5L394.3 161.6L394.6 162.0L394.9 162.5L395.2 163.1L395.5 163.7L395.8 164.2L396.1 164.5L396.4 164.8L396.7 164.9L397.0 164.9L397.3 164.8L397.6 164.7L397.9 164.6L398.2 164.6L398.5 164.7L398.8 164.8L399.1 165.0L399.4 165.2L399.7 165.4L400.0 165.6L400.3 165.8L400.6 165.9L400.9 166.0L401.2 166.1L401.5 166.2L401.8 166.2L402.1 166.2L402.4 166.3L402.4 166.7Z" fill="#959595"/>
<path d="M347.20 166.37L381.58 204.78M351.61 166.37L385.98 204.78M356.02 166.37L390.39 204.78M360.42 166.37L394.80 204.78M364.83 166.37L399.21 204.78M369.24 166.37L403.61 204.78M373.65 166.37L408.02 204.78M378.05 166.37L412.43 204.78M382.46 166.37L416.84 204.78M386.87 166.37L421.24 204.78M391.28 166.37L425.65 204.78M395.68 166.37L430.06 204.78M400.09 166.37L434.47 204.78M404.50 166.37L438.88 204.78" stroke="#8e8e8e" stroke-width="0.55" fill="none"/>
<path d="M346.2 166.37h58.3" stroke="#aaa" stroke-width="0.6" fill="none"/>
<path d="M363.77 184.88h57.3" stroke="#666" stroke-width="0.6" fill="none"/>
<path d="M381.58 204.78h57.3" stroke="#444" stroke-width="0.65" fill="none"/>
<path d="M373.5 185.2L373.5 184.8L373.8 184.8L374.1 184.7L374.4 184.7L374.7 184.6L375.0 184.5L375.3 184.4L375.6 184.2L375.9 184.0L376.2 183.8L376.5 183.6L376.8 183.2L377.1 182.7L377.4 181.9L377.7 180.6L378.0 178.5L378.3 175.6L378.6 172.2L378.9 169.0L379.2 167.0L379.5 166.9L379.8 168.8L380.1 172.0L380.4 175.3L380.7 178.2L381.0 180.3L381.3 181.6L381.6 182.4L381.9 182.9L382.2 183.2L382.5 183.5L382.8 183.8L383.1 184.0L383.4 184.1L383.7 184.3L384.0 184.4L384.3 184.5L384.6 184.6L384.9 184.7L385.2 184.7L385.5 184.7L385.8 184.8L385.8 185.2Z" fill="#585858"/>
<path d="M385.0 205.1L385.0 204.7L385.3 204.7L385.6 204.7L385.9 204.7L386.2 204.7L386.5 204.7L386.8 204.7L387.1 204.6L387.4 204.6L387.7 204.6L388.0 204.6L388.3 204.6L388.6 204.6L388.9 204.6L389.2 204.5L389.5 204.5L389.8 204.5L390.1 204.5L390.4 204.4L390.7 204.4L391.0 204.4L391.3 204.4L391.6 204.3L391.9 204.3L392.2 204.2L392.5 204.2L392.8 204.2L393.1 204.1L393.4 204.1L393.7 204.0L394.0 204.0L394.3 203.9L394.6 203.9L394.9 203.8L395.2 203.8L395.5 203.7L395.8 203.7L396.1 203.6L396.4 203.6L396.7 203.5L397.0 203.5L397.3 203.4L397.6 203.4L397.9 203.3L398.2 203.3L398.5 203.3L398.8 203.2L399.1 203.2L399.4 203.1L399.7 202.9L400.0 202.8L400.3 202.5L400.6 202.2L400.9 201.7L401.2 200.8L401.5 199.0L401.8 195.5L402.1 189.5L402.4 180.7L402.7 170.9L403.0 163.6L403.3 161.7L403.6 161.7L403.9 161.8L404.2 161.8L404.5 161.9L404.8 161.9L405.1 162.0L405.4 162.0L405.7 162.3L406.0 167.2L406.3 176.4L406.6 186.1L406.9 193.6L407.2 198.4L407.5 200.9L407.8 202.2L408.1 203.0L408.4 203.4L408.7 203.8L409.0 204.0L409.3 204.2L409.6 204.3L409.9 204.4L410.2 204.4L410.5 204.5L410.8 204.5L411.1 204.5L411.4 204.6L411.7 204.6L412.0 204.6L412.3 204.6L412.6 204.6L412.9 204.6L413.2 204.6L413.5 204.7L413.8 204.7L414.1 204.7L414.4 204.7L414.7 204.7L415.0 204.7L415.0 205.1Z" fill="#000000"/>
<text x="386.1 393.0 399.1 405.5 414.0 421.1 424.8 431.4 436.0" y="215.2" font-size="10" font-weight="bold" stroke="#000" stroke-width="0.25">TRBV6(b*)</text>
<path d="M434.3 167.0L434.3 166.6L434.6 166.6L434.9 166.6L435.2 166.5L435.5 166.5L435.8 166.4L436.1 166.3L436.4 166.2L436.7 166.0L437.0 165.8L437.3 165.5L437.6 165.1L437.9 164.7L438.2 164.1L438.5 163.6L438.8 163.0L439.1 162.6L439.4 162.4L439.7 162.3L440.0 162.4L440.3 162.6L440.6 162.8L440.9 162.9L441.2 162.8L441.5 162.5L441.8 161.8L442.1 160.9L442.4 159.7L442.7 158.3L443.0 157.0L443.3 155.7L443.6 154.9L443.9 154.4L444.2 154.3L444.5 154.5L444.8 154.8L445.1 154.9L445.4 154.8L445.7 154.1L446.0 152.9L446.3 150.9L446.6 148.3L446.9 145.2L447.2 141.7L447.5 138.3L447.8 135.4L448.1 133.5L448.4 132.7L448.7 133.0L449.0 134.3L449.3 136.1L449.6 137.8L449.9 139.3L450.2 140.1L450.5 140.2L450.8 139.5L451.1 138.0L451.4 135.9L451.7 133.3L452.0 130.7L452.3 128.3L452.6 126.7L452.9 126.1L453.2 126.6L453.5 128.1L453.8 130.4L454.1 132.9L454.4 135.3L454.7 137.3L455.0 138.5L455.3 138.9L455.6 138.4L455.9 137.1L456.2 135.0L456.5 132.5L456.8 130.1L457.1 128.3L457.4 127.6L457.7 128.3L458.0 130.4L458.3 133.6L458.6 137.5L458.9 141.5L459.2 145.1L459.5 148.0L459.8 149.9L460.1 150.9L460.4 151.1L460.7 150.6L461.0 149.7L461.3 148.6L461.6 147.8L461.9 147.5L462.2 148.0L462.5 149.2L462.8 151.1L463.1 153.2L463.4 155.4L463.7 157.3L464.0 158.8L464.3 159.8L464.6 160.3L464.9 160.3L465.2 160.0L465.5 159.6L465.8 159.1L466.1 158.9L466.4 158.9L466.7 159.3L467.0 160.1L467.3 161.0L467.6 162.0L467.9 163.0L468.2 163.9L468.5 164.6L468.8 165.1L469.1 165.5L469.4 165.7L469.7 166.0L470.0 166.1L470.3 166.2L470.6 166.3L470.9 166.4L471.2 166.5L471.5 166.5L471.8 166.6L472.1 166.6L472.1 167.0Z" fill="#959595"/>
<path d="M424.40 166.71L458.93 205.29M428.81 166.71L463.34 205.29M433.22 166.71L467.75 205.29M437.62 166.71L472.15 205.29M442.03 166.71L476.56 205.29M446.44 166.71L480.97 205.29M450.85 166.71L485.38 205.29M455.25 166.71L489.78 205.29M459.66 166.71L494.19 205.29M464.07 166.71L498.60 205.29M468.48 166.71L503.01 205.29M472.88 166.71L507.41 205.29M477.29 166.71L511.82 205.29M481.70 166.71L516.23 205.29" stroke="#8e8e8e" stroke-width="0.55" fill="none"/>
<path d="M423.4 166.71h58.3" stroke="#aaa" stroke-width="0.6" fill="none"/>
<path d="M441.12 185.40h57.3" stroke="#666" stroke-width="0.6" fill="none"/>
<path d="M458.93 205.29h57.3" stroke="#444" stroke-width="0.65" fill="none"/>
<path d="M452.4 185.7L452.4 185.3L452.7 185.3L453.0 185.3L453.3 185.2L453.6 185.2L453.9 185.2L454.2 185.1L454.5 185.1L454.8 185.0L455.1 184.9L455.4 184.8L455.7 184.7L456.0 184.5L456.3 184.4L456.6 184.1L456.9 183.9L457.2 183.5L457.5 183.0L457.8 182.3L458.1 181.3L458.4 179.8L458.7 177.9L459.0 175.7L459.3 173.4L459.6 171.3L459.9 169.8L460.2 169.2L460.5 169.4L460.8 170.3L461.1 171.5L461.4 172.5L461.7 173.0L462.0 172.9L462.3 172.0L462.6 170.3L462.9 167.8L463.2 164.6L463.5 160.8L463.8 156.6L464.1 152.3L464.4 148.3L464.7 145.0L465.0 142.7L465.3 141.6L465.6 141.9L465.9 143.3L466.2 145.8L466.5 148.8L466.8 152.1L467.1 155.0L467.4 157.4L467.7 158.9L468.0 159.5L468.3 159.2L468.6 158.4L468.9 157.3L469.2 156.5L469.5 156.2L469.8 156.8L470.1 158.1L470.4 160.0L470.7 162.1L471.0 164.1L471.3 165.5L471.6 166.1L471.9 165.9L472.2 164.8L472.5 163.3L472.8 161.6L473.1 160.2L473.4 159.6L473.7 160.1L474.0 161.6L474.3 164.0L474.6 166.9L474.9 169.9L475.2 172.7L475.5 174.9L475.8 176.4L476.1 177.2L476.4 177.2L476.7 176.4L477.0 175.0L477.3 173.4L477.6 172.2L477.9 171.9L478.2 172.8L478.5 174.6L478.8 176.9L479.1 179.2L479.4 181.1L479.7 182.4L480.0 183.3L480.3 183.8L480.6 184.2L480.9 184.4L481.2 184.6L481.5 184.8L481.8 184.9L482.1 185.0L482.4 185.1L482.7 185.1L483.0 185.2L483.3 185.2L483.6 185.3L483.9 185.3L484.2 185.3L484.2 185.7Z" fill="#585858"/>
<path d="M456.1 205.6L456.1 205.2L456.4 205.2L456.7 205.2L457.0 205.2L457.3 205.2L457.6 205.2L457.9 205.2L458.2 205.1L458.5 205.1L458.8 205.1L459.1 205.1L459.4 205.1L459.7 205.1L460.0 205.1L460.3 205.0L460.6 205.0L460.9 205.0L461.2 205.0L461.5 204.9L461.8 204.9L462.1 204.9L462.4 204.9L462.7 204.8L463.0 204.8L463.3 204.8L463.6 204.7L463.9 204.7L464.2 204.6L464.5 204.6L464.8 204.6L465.1 204.5L465.4 204.5L465.7 204.4L466.0 204.3L466.3 204.3L466.6 204.2L466.9 204.2L467.2 204.1L467.5 204.0L467.8 204.0L468.1 203.9L468.4 203.8L468.7 203.7L469.0 203.6L469.3 203.5L469.6 203.4L469.9 203.2L470.2 203.1L470.5 202.9L470.8 202.6L471.1 202.4L471.4 202.1L471.7 201.7L472.0 201.1L472.3 200.3L472.6 199.1L472.9 197.2L473.2 194.4L473.5 190.7L473.8 186.0L474.1 181.0L474.4 176.4L474.7 173.1L475.0 171.9L475.3 173.0L475.6 176.0L475.9 180.1L476.2 184.3L476.5 187.9L476.8 190.1L477.1 190.7L477.4 189.4L477.7 186.4L478.0 181.8L478.3 176.2L478.6 170.5L478.9 165.9L479.2 163.5L479.5 163.7L479.8 166.6L480.1 171.2L480.4 176.5L480.7 181.2L481.0 184.3L481.3 185.4L481.6 184.0L481.9 180.4L482.2 174.7L482.5 167.9L482.8 161.2L483.1 156.1L483.4 153.8L483.7 154.9L484.0 159.3L484.3 165.7L484.6 172.7L484.9 179.1L485.2 184.0L485.5 186.9L485.8 187.7L486.1 186.7L486.4 184.0L486.7 180.2L487.0 176.1L487.3 172.5L487.6 170.4L487.9 170.4L488.2 172.6L488.5 176.4L488.8 181.0L489.1 185.6L489.4 189.5L489.7 192.3L490.0 194.1L490.3 195.0L490.6 195.0L490.9 194.4L491.2 193.5L491.5 192.4L491.8 191.5L492.1 190.9L492.4 191.1L492.7 191.8L493.0 193.0L493.3 194.5L493.6 195.9L493.9 197.1L494.2 197.9L494.5 198.2L494.8 198.0L495.1 197.3L495.4 196.0L495.7 194.2L496.0 192.2L496.3 190.3L496.6 188.9L496.9 188.3L497.2 188.8L497.5 190.3L497.8 192.5L498.1 194.8L498.4 197.0L498.7 198.8L499.0 200.2L499.3 201.1L499.6 201.7L499.9 202.1L500.2 202.5L500.5 202.7L500.8 202.9L501.1 203.1L501.4 203.2L501.7 203.3L502.0 203.5L502.3 203.6L502.6 203.7L502.9 203.8L503.2 203.9L503.5 203.9L503.8 204.0L504.1 204.1L504.4 204.1L504.7 204.2L505.0 204.3L505.3 204.3L505.6 204.4L505.9 204.4L506.2 204.5L506.5 204.5L506.8 204.6L507.1 204.6L507.4 204.7L507.7 204.7L508.0 204.7L508.3 204.8L508.6 204.8L508.9 204.8L509.2 204.9L509.5 204.9L509.8 204.9L510.1 205.0L510.4 205.0L510.7 205.0L511.0 205.0L511.3 205.0L511.6 205.1L511.9 205.1L512.2 205.1L512.5 205.1L512.8 205.1L513.1 205.1L513.4 205.2L513.7 205.2L514.0 205.2L514.3 205.2L514.6 205.2L514.9 205.2L515.2 205.2L515.2 205.6Z" fill="#000000"/>
<text x="472.6 479.5 485.6 492.0 500.5" y="215.7" font-size="10" font-weight="bold" stroke="#000" stroke-width="0.25">TRBV7</text>
<path d="M200.6 259.3L200.6 258.9L200.9 258.9L201.2 258.8L201.5 258.8L201.8 258.7L202.1 258.7L202.4 258.6L202.7 258.5L203.0 258.4L203.3 258.2L203.6 258.0L203.9 257.7L204.2 257.4L204.5 257.1L204.8 256.9L205.1 256.7L205.4 256.7L205.7 256.7L206.0 256.8L206.3 256.8L206.6 256.9L206.9 256.8L207.2 256.6L207.5 256.2L207.8 255.6L208.1 254.9L208.4 254.1L208.7 253.4L209.0 252.8L209.3 252.4L209.6 252.3L209.9 252.4L210.2 252.7L210.5 252.9L210.8 253.1L211.1 253.0L211.4 252.5L211.7 251.5L212.0 250.0L212.3 248.0L212.6 245.5L212.9 242.9L213.2 240.5L213.5 238.7L213.8 237.7L214.1 237.8L214.4 238.9L214.7 240.7L215.0 242.7L215.3 244.6L215.6 246.0L215.9 246.6L216.2 246.4L216.5 245.3L216.8 243.2L217.1 240.3L217.4 236.9L217.7 233.5L218.0 230.5L218.3 228.6L218.6 228.2L218.9 229.3L219.2 231.6L219.5 234.7L219.8 238.0L220.1 241.0L220.4 243.2L220.7 244.4L221.0 244.5L221.3 243.6L221.6 241.7L221.9 239.0L222.2 236.0L222.5 233.1L222.8 230.9L223.1 229.9L223.4 230.3L223.7 232.1L224.0 235.0L224.3 238.3L224.6 241.7L224.9 244.5L225.2 246.7L225.5 248.0L225.8 248.5L226.1 248.3L226.4 247.6L226.7 246.6L227.0 245.6L227.3 244.8L227.6 244.6L227.9 244.9L228.2 246.0L228.5 247.4L228.8 249.1L229.1 250.8L229.4 252.3L229.7 253.4L230.0 254.1L230.3 254.5L230.6 254.6L230.9 254.5L231.2 254.3L231.5 254.1L231.8 254.0L232.1 254.2L232.4 254.5L232.7 255.0L233.0 255.6L233.3 256.2L233.6 256.8L233.9 257.3L234.2 257.7L234.5 258.0L234.8 258.2L235.1 258.4L235.4 258.5L235.7 258.6L236.0 258.7L236.3 258.7L236.6 258.8L236.9 258.8L237.2 258.9L237.2 259.3Z" fill="#959595"/>
<path d="M190.80 258.96L224.87 297.02M195.21 258.96L229.27 297.02M199.62 258.96L233.68 297.02M204.02 258.96L238.09 297.02M208.43 258.96L242.50 297.02M212.84 258.96L246.90 297.02M217.25 258.96L251.31 297.02M221.65 258.96L255.72 297.02M226.06 258.96L260.13 297.02M230.47 258.96L264.53 297.02M234.88 258.96L268.94 297.02M239.28 258.96L273.35 297.02M243.69 258.96L277.76 297.02M248.10 258.96L282.17 297.02" stroke="#8e8e8e" stroke-width="0.55" fill="none"/>
<path d="M189.8 258.96h58.3" stroke="#aaa" stroke-width="0.6" fill="none"/>
<path d="M207.83 277.99h57.3" stroke="#666" stroke-width="0.6" fill="none"/>
<path d="M224.87 297.02h57.3" stroke="#444" stroke-width="0.65" fill="none"/>
<path d="M218.4 278.3L218.4 277.8L218.7 277.7L219.0 277.6L219.3 277.5L219.6 277.2L219.9 276.9L220.2 276.3L220.5 275.2L220.8 273.3L221.1 270.3L221.4 266.0L221.7 261.0L222.0 256.7L222.3 254.3L222.6 254.8L222.9 258.0L223.2 262.7L223.5 267.5L223.8 271.4L224.1 274.1L224.4 275.7L224.7 276.5L225.0 277.0L225.3 277.3L225.6 277.5L225.9 277.7L226.2 277.8L226.5 277.8L226.8 277.9L227.1 277.9L227.4 277.9L227.7 277.9L228.0 277.9L228.3 277.9L228.6 277.8L228.9 277.8L229.2 277.6L229.5 277.4L229.8 277.1L230.1 276.4L230.4 275.4L230.7 274.2L231.0 272.8L231.3 271.8L231.6 271.4L231.9 271.8L232.2 272.7L232.5 273.9L232.8 274.8L233.1 275.4L233.4 275.5L233.7 275.1L234.0 274.0L234.3 271.9L234.6 268.5L234.9 263.5L235.2 257.1L235.5 250.2L235.8 244.2L236.1 240.7L236.4 240.7L236.7 244.2L237.0 250.1L237.3 256.7L237.6 262.6L237.9 267.0L238.2 269.5L238.5 270.2L238.8 268.9L239.1 265.7L239.4 260.5L239.7 253.5L240.0 245.9L240.3 239.3L240.6 235.5L240.9 235.7L241.2 239.9L241.5 246.7L241.8 254.5L242.1 261.5L242.4 266.8L242.7 270.2L243.0 271.9L243.3 272.1L243.6 271.1L243.9 269.1L244.2 266.6L244.5 264.1L244.8 262.4L245.1 261.9L245.4 263.0L245.7 265.3L246.0 268.2L246.3 271.0L246.6 273.4L246.9 275.1L247.2 276.2L247.5 276.8L247.8 277.2L248.1 277.4L248.4 277.6L248.7 277.7L249.0 277.8L249.3 277.8L249.3 278.3Z" fill="#585858"/>
<path d="M240.0 297.3L240.0 296.9L240.3 296.9L240.6 296.8L240.9 296.7L241.2 296.6L241.5 296.4L241.8 296.2L242.1 295.9L242.4 295.5L242.7 294.8L243.0 293.7L243.3 291.9L243.6 288.8L243.9 284.1L244.2 277.7L244.5 270.0L244.8 262.5L245.1 256.8L245.4 254.6L245.7 256.4L246.0 261.8L246.3 269.0L246.6 276.3L246.9 282.1L247.2 285.9L247.5 287.3L247.8 286.5L248.1 283.8L248.4 279.8L248.7 275.4L249.0 271.7L249.3 270.0L249.6 270.7L249.9 273.7L250.2 278.3L250.5 283.1L250.8 287.4L251.1 290.5L251.4 292.6L251.7 293.6L252.0 293.9L252.3 293.5L252.6 292.4L252.9 290.5L253.2 287.7L253.5 284.3L253.8 280.9L254.1 278.4L254.4 277.5L254.7 278.4L255.0 281.0L255.3 284.5L255.6 288.0L255.9 291.0L256.2 293.2L256.5 294.6L256.8 295.5L257.1 296.0L257.4 296.3L257.7 296.5L258.0 296.6L258.3 296.7L258.6 296.8L258.9 296.9L259.2 296.9L259.5 296.9L259.8 296.9L260.1 296.8L260.4 296.7L260.7 296.6L261.0 296.5L261.3 296.2L261.6 295.7L261.9 294.8L262.2 293.4L262.5 291.3L262.8 288.7L263.1 286.2L263.4 284.7L263.7 284.5L264.0 285.9L264.3 288.3L264.6 290.9L264.9 293.1L265.2 294.7L265.5 295.6L265.8 296.2L266.1 296.5L266.4 296.6L266.7 296.8L267.0 296.8L267.3 296.9L267.6 296.9L267.6 297.3Z" fill="#000000"/>
<text x="236.9 243.8 249.9 256.3 264.8" y="307.4" font-size="10" font-weight="bold" stroke="#000" stroke-width="0.25">TRBV9</text>
<path d="M283.4 259.3L283.4 258.8L283.7 258.7L284.0 258.6L284.3 258.5L284.6 258.4L284.9 258.2L285.2 257.9L285.5 257.6L285.8 257.0L286.1 256.2L286.4 255.0L286.7 253.3L287.0 251.1L287.3 248.8L287.6 246.6L287.9 245.1L288.2 244.6L288.5 245.2L288.8 246.7L289.1 248.7L289.4 250.7L289.7 252.3L290.0 253.2L290.3 253.5L290.6 253.0L290.9 251.6L291.2 249.2L291.5 245.8L291.8 241.7L292.1 237.4L292.4 233.8L292.7 231.9L293.0 231.9L293.3 234.0L293.6 237.5L293.9 241.5L294.2 245.1L294.5 247.8L294.8 249.3L295.1 249.4L295.4 248.2L295.7 245.5L296.0 241.1L296.3 235.3L296.6 228.6L296.9 222.3L297.2 217.7L297.5 216.1L297.8 217.8L298.1 222.5L298.4 228.9L298.7 235.5L299.0 241.2L299.3 245.5L299.6 248.1L299.9 249.2L300.2 248.9L300.5 247.3L300.8 244.2L301.1 239.8L301.4 234.6L301.7 229.4L302.0 225.5L302.3 223.9L302.6 224.9L302.9 228.5L303.2 233.6L303.5 239.0L303.8 243.8L304.1 247.5L304.4 249.7L304.7 250.7L305.0 250.4L305.3 249.0L305.6 246.5L305.9 243.1L306.2 239.3L306.5 235.9L306.8 233.8L307.1 233.5L307.4 235.1L307.7 238.3L308.0 242.3L308.3 246.2L308.6 249.4L308.9 251.6L309.2 252.8L309.5 253.1L309.8 252.7L310.1 251.6L310.4 250.2L310.7 248.7L311.0 247.6L311.3 247.2L311.6 247.7L311.9 249.0L312.2 250.8L312.5 252.7L312.8 254.4L313.1 255.8L313.4 256.8L313.7 257.4L314.0 257.9L314.3 258.1L314.6 258.3L314.9 258.5L315.2 258.6L315.5 258.7L315.8 258.8L315.8 259.3Z" fill="#959595"/>
<path d="M269.00 258.96L303.38 297.37M273.41 258.96L307.78 297.37M277.82 258.96L312.19 297.37M282.22 258.96L316.60 297.37M286.63 258.96L321.01 297.37M291.04 258.96L325.41 297.37M295.45 258.96L329.82 297.37M299.85 258.96L334.23 297.37M304.26 258.96L338.64 297.37M308.67 258.96L343.04 297.37M313.08 258.96L347.45 297.37M317.48 258.96L351.86 297.37M321.89 258.96L356.27 297.37M326.30 258.96L360.68 297.37" stroke="#8e8e8e" stroke-width="0.55" fill="none"/>
<path d="M268.0 258.96h58.3" stroke="#aaa" stroke-width="0.6" fill="none"/>
<path d="M285.57 277.47h57.3" stroke="#666" stroke-width="0.6" fill="none"/>
<path d="M303.38 297.37h57.3" stroke="#444" stroke-width="0.65" fill="none"/>
<path d="M296.8 277.8L296.8 277.2L297.1 277.1L297.4 276.9L297.7 276.7L298.0 276.5L298.3 276.2L298.6 275.7L298.9 275.0L299.2 273.9L299.5 272.1L299.8 269.4L300.1 265.3L300.4 259.8L300.7 253.2L301.0 246.3L301.3 240.4L301.6 236.7L301.9 236.0L302.2 236.0L302.5 236.0L302.8 236.0L303.1 236.0L303.4 236.0L303.7 236.1L304.0 238.9L304.3 244.2L304.6 250.9L304.9 257.7L305.2 263.6L305.5 268.2L305.8 271.3L306.1 273.4L306.4 274.7L306.7 275.5L307.0 276.0L307.3 276.4L307.6 276.6L307.9 276.8L308.2 277.0L308.5 277.1L308.8 277.1L309.1 277.1L309.4 277.1L309.7 277.1L310.0 277.0L310.3 276.8L310.6 276.6L310.9 276.4L311.2 276.0L311.5 275.4L311.8 274.6L312.1 273.2L312.4 271.0L312.7 267.6L313.0 263.0L313.3 257.3L313.6 251.1L313.9 245.3L314.2 241.3L314.5 239.8L314.8 239.6L315.1 239.3L315.4 239.0L315.7 239.3L316.0 242.0L316.3 246.2L316.6 250.7L316.9 254.0L317.2 255.2L317.5 254.0L317.8 250.7L318.1 246.0L318.4 241.1L318.7 237.2L319.0 235.4L319.3 235.5L319.6 235.7L319.9 235.9L320.2 236.0L320.5 236.1L320.8 236.2L321.1 236.9L321.4 240.0L321.7 245.0L322.0 251.1L322.3 257.2L322.6 262.7L322.9 267.1L323.2 270.4L323.5 272.6L323.8 274.1L324.1 275.1L324.4 275.7L324.7 276.1L325.0 276.4L325.3 276.7L325.6 276.8L325.9 277.0L326.2 277.1L326.2 277.8Z" fill="#585858"/>
<path d="M314.5 297.7L314.5 296.9L314.8 296.7L315.1 296.4L315.4 295.9L315.7 295.3L316.0 294.2L316.3 292.3L316.6 288.6L316.9 282.0L317.2 271.9L317.5 259.1L317.8 246.6L318.1 238.8L318.4 238.8L318.7 246.6L319.0 259.1L319.3 271.9L319.6 282.0L319.9 288.5L320.2 292.2L320.5 294.1L320.8 295.2L321.1 295.8L321.4 296.2L321.7 296.4L322.0 296.4L322.3 296.3L322.6 295.8L322.9 295.0L323.2 293.9L323.5 292.8L323.8 291.9L324.1 291.6L324.4 291.6L324.7 291.6L325.0 291.2L325.3 289.9L325.6 287.8L325.9 285.5L326.2 283.6L326.5 282.7L326.8 283.2L327.1 284.9L327.4 287.5L327.7 290.1L328.0 292.4L328.3 294.1L328.6 295.2L328.9 295.9L329.2 296.2L329.5 296.3L329.8 296.3L330.1 296.1L330.4 295.6L330.7 294.8L331.0 293.4L331.3 291.4L331.6 288.9L331.9 286.2L332.2 284.0L332.5 282.8L332.8 283.0L333.1 284.5L333.4 287.0L333.7 289.7L334.0 292.1L334.3 294.0L334.6 295.2L334.9 296.0L335.2 296.5L335.5 296.7L335.8 296.9L336.1 297.0L336.4 297.1L336.7 297.2L337.0 297.3L337.0 297.7Z" fill="#000000"/>
<text x="314.8 321.7 327.8 334.2 342.7 348.8" y="307.8" font-size="10" font-weight="bold" stroke="#000" stroke-width="0.25">TRBV10</text>
<path d="M356.6 259.3L356.6 258.8L356.9 258.8L357.2 258.7L357.5 258.6L357.8 258.5L358.1 258.4L358.4 258.3L358.7 258.1L359.0 257.9L359.3 257.7L359.6 257.3L359.9 256.8L360.2 256.2L360.5 255.4L360.8 254.5L361.1 253.4L361.4 252.2L361.7 251.2L362.0 250.4L362.3 249.8L362.6 249.7L362.9 249.9L363.2 250.3L363.5 250.7L363.8 251.1L364.1 251.1L364.4 250.7L364.7 249.8L365.0 248.3L365.3 246.2L365.6 243.7L365.9 241.2L366.2 238.8L366.5 237.0L366.8 236.0L367.1 236.0L367.4 236.9L367.7 238.5L368.0 240.3L368.3 241.9L368.6 243.1L368.9 243.4L369.2 242.7L369.5 241.0L369.8 238.1L370.1 234.4L370.4 230.2L370.7 226.0L371.0 222.4L371.3 220.1L371.6 219.5L371.9 220.7L372.2 223.3L372.5 226.8L372.8 230.7L373.1 234.1L373.4 236.6L373.7 238.0L374.0 237.9L374.3 236.4L374.6 233.7L374.9 230.1L375.2 226.0L375.5 222.2L375.8 219.3L376.1 217.9L376.4 218.2L376.7 220.2L377.0 223.4L377.3 227.3L377.6 231.1L377.9 234.1L378.2 236.1L378.5 236.6L378.8 235.7L379.1 233.5L379.4 230.3L379.7 226.7L380.0 223.2L380.3 220.6L380.6 219.5L380.9 220.1L381.2 222.4L381.5 225.9L381.8 230.1L382.1 234.4L382.4 238.1L382.7 240.9L383.0 242.7L383.3 243.4L383.6 243.1L383.9 242.0L384.2 240.3L384.5 238.5L384.8 237.0L385.1 236.0L385.4 236.0L385.7 236.9L386.0 238.7L386.3 241.1L386.6 243.7L386.9 246.2L387.2 248.3L387.5 249.8L387.8 250.8L388.1 251.2L388.4 251.2L388.7 250.8L389.0 250.2L389.3 249.5L389.6 249.1L389.9 248.9L390.2 249.1L390.5 249.7L390.8 250.6L391.1 251.7L391.4 252.7L391.7 253.7L392.0 254.5L392.3 255.0L392.6 255.2L392.9 255.2L393.2 255.0L393.5 254.7L393.8 254.4L394.1 254.2L394.4 254.1L394.7 254.2L395.0 254.5L395.3 255.0L395.6 255.6L395.9 256.2L396.2 256.8L396.5 257.2L396.8 257.6L397.1 257.9L397.4 258.2L397.7 258.3L398.0 258.5L398.3 258.6L398.6 258.6L398.9 258.7L399.2 258.8L399.5 258.8L399.8 258.8L400.1 258.9L400.1 259.3Z" fill="#959595"/>
<path d="M347.20 258.96L381.27 297.02M351.61 258.96L385.67 297.02M356.02 258.96L390.08 297.02M360.42 258.96L394.49 297.02M364.83 258.96L398.90 297.02M369.24 258.96L403.30 297.02M373.65 258.96L407.71 297.02M378.05 258.96L412.12 297.02M382.46 258.96L416.53 297.02M386.87 258.96L420.93 297.02M391.28 258.96L425.34 297.02M395.68 258.96L429.75 297.02M400.09 258.96L434.16 297.02M404.50 258.96L438.57 297.02" stroke="#8e8e8e" stroke-width="0.55" fill="none"/>
<path d="M346.2 258.96h58.3" stroke="#aaa" stroke-width="0.6" fill="none"/>
<path d="M362.99 276.61h57.3" stroke="#666" stroke-width="0.6" fill="none"/>
<path d="M381.27 297.02h57.3" stroke="#444" stroke-width="0.65" fill="none"/>
<path d="M377.7 276.9L377.7 276.5L378.0 276.4L378.3 276.3L378.6 276.1L378.9 275.9L379.2 275.5L379.5 275.2L379.8 274.9L380.1 274.7L380.4 274.8L380.7 275.0L381.0 275.4L381.3 275.7L381.6 276.0L381.9 276.1L382.2 276.2L382.5 276.2L382.8 276.0L383.1 275.7L383.4 275.3L383.7 274.8L384.0 274.3L384.3 274.1L384.6 274.0L384.9 274.3L385.2 274.7L385.5 275.2L385.8 275.6L386.1 275.9L386.4 276.1L386.7 276.2L387.0 276.1L387.3 275.8L387.6 275.1L387.9 273.8L388.2 271.8L388.5 270.0L388.8 269.2L389.1 270.0L389.4 271.8L389.7 273.7L390.0 275.1L390.3 275.8L390.6 276.0L390.9 276.1L391.2 276.0L391.5 275.8L391.8 275.5L392.1 274.9L392.4 274.3L392.7 273.8L393.0 273.5L393.3 273.6L393.6 273.9L393.9 274.5L394.2 275.1L394.5 275.6L394.8 275.9L395.1 276.2L395.4 276.3L395.7 276.4L396.0 276.4L396.3 276.3L396.6 276.2L396.9 276.0L397.2 275.7L397.5 275.3L397.8 275.0L398.1 274.8L398.4 274.7L398.7 274.9L399.0 275.2L399.3 275.5L399.6 275.9L399.9 276.1L400.2 276.3L400.5 276.4L400.8 276.4L401.1 276.4L401.4 276.4L401.7 276.3L402.0 276.2L402.3 276.0L402.6 275.8L402.9 275.5L403.2 275.3L403.5 275.2L403.8 275.3L404.1 275.5L404.4 275.8L404.7 276.0L405.0 276.2L405.3 276.4L405.6 276.5L405.9 276.5L405.9 276.9Z" fill="#585858"/>
<path d="M390.5 297.3L390.5 296.9L390.8 296.9L391.1 296.8L391.4 296.7L391.7 296.5L392.0 296.1L392.3 295.5L392.6 294.4L392.9 293.1L393.2 291.9L393.5 291.1L393.8 291.1L394.1 291.9L394.4 293.1L394.7 294.4L395.0 295.5L395.3 296.1L395.6 296.5L395.9 296.7L396.2 296.8L396.5 296.9L396.8 296.9L397.1 297.0L397.4 297.0L397.7 297.0L398.0 297.0L398.3 297.0L398.6 297.0L398.9 297.0L399.2 297.0L399.5 296.9L399.8 296.9L400.1 296.8L400.4 296.7L400.7 296.6L401.0 296.4L401.3 296.2L401.6 295.8L401.9 295.2L402.2 294.3L402.5 292.6L402.8 290.1L403.1 286.5L403.4 282.0L403.7 277.3L404.0 273.5L404.3 271.5L404.6 271.9L404.9 274.5L405.2 278.4L405.5 282.5L405.8 285.7L406.1 287.3L406.4 286.9L406.7 284.3L407.0 279.3L407.3 272.4L407.6 264.7L407.9 257.8L408.2 253.8L408.5 253.8L408.8 257.8L409.1 264.7L409.4 272.5L409.7 279.7L410.0 285.1L410.3 288.4L410.6 289.9L410.9 289.9L411.2 288.9L411.5 287.6L411.8 286.5L412.1 286.1L412.4 286.6L412.7 288.0L413.0 289.8L413.3 291.8L413.6 293.5L413.9 294.8L414.2 295.6L414.5 296.1L414.8 296.4L415.1 296.6L415.4 296.7L415.7 296.8L416.0 296.9L416.3 296.9L416.3 297.3Z" fill="#000000"/>
<path d="M365.5 276.6L366.2 276.43L366.9 276.31L367.6 276.50L368.3 276.45L369.0 276.41L369.7 276.13L370.4 276.09L371.1 276.45L371.8 276.60L372.5 276.35L373.2 276.07L373.9 276.46L374.6 276.36L375.3 276.45L376.0 275.97L376.7 276.17L377.4 276.56L378.1 276.53L378.8 276.29L379.5 276.17L380.2 276.10L380.9 276.54L381.6 276.48L382.3 276.05L383.0 276.28L383.7 276.38L384.4 276.36L385.1 275.85L385.8 276.36L386.5 276.16L387.2 276.32L387.9 276.28L388.6 275.92L389.3 275.81L390.0 276.32L390.7 276.45L391.4 276.03L392.1 276.45L392.8 276.60L393.5 275.89L394.2 276.27L394.9 275.95L395.6 276.28L396.3 275.90L397.0 276.24L397.7 276.48L398.4 276.60L399.1 276.17L399.8 276.10L400.5 275.88L401.2 276.54L401.9 276.11L402.6 276.31L403.3 276.21L404.0 276.49L404.7 276.38L405.4 276.19L406.1 275.87L406.8 276.52L407.5 276.22L408.2 275.97L408.9 275.84L409.6 276.45L410.3 276.51L411.0 275.85L411.7 275.83L412.4 276.22L413.1 276.57L413.8 275.87L414.5 276.30L415.2 275.89L415.9 276.11L416.6 275.95L417.3 276.48L418.0 275.98L418.7 276.43L419.4 276.29L420.1 275.93L420.8 275.95L421.5 276.46" fill="none" stroke="#444" stroke-width="0.7"/>
<text x="392.6 399.6 405.6 412.1 420.5 426.6" y="307.4" font-size="10" font-weight="bold" stroke="#000" stroke-width="0.25">TRBV11</text>
<path d="M433.4 259.6L433.4 259.2L433.7 259.2L434.0 259.1L434.3 259.1L434.6 259.0L434.9 258.9L435.2 258.8L435.5 258.7L435.8 258.5L436.1 258.3L436.4 258.1L436.7 257.7L437.0 257.2L437.3 256.6L437.6 255.7L437.9 254.7L438.2 253.4L438.5 252.2L438.8 251.0L439.1 250.2L439.4 249.8L439.7 249.9L440.0 250.4L440.3 251.2L440.6 252.1L440.9 252.9L441.2 253.4L441.5 253.6L441.8 253.4L442.1 252.7L442.4 251.6L442.7 250.2L443.0 248.7L443.3 247.3L443.6 246.2L443.9 245.5L444.2 245.3L444.5 245.6L444.8 246.1L445.1 246.7L445.4 247.1L445.7 247.2L446.0 246.6L446.3 245.4L446.6 243.4L446.9 240.7L447.2 237.3L447.5 233.6L447.8 229.9L448.1 226.7L448.4 224.5L448.7 223.6L449.0 224.0L449.3 225.5L449.6 227.5L449.9 229.6L450.2 231.3L450.5 232.2L450.8 232.2L451.1 231.2L451.4 229.4L451.7 226.9L452.0 224.2L452.3 221.8L452.6 220.1L452.9 219.5L453.2 220.2L453.5 222.0L453.8 224.6L454.1 227.5L454.4 230.3L454.7 232.5L455.0 234.1L455.3 234.7L455.6 234.5L455.9 233.5L456.2 231.8L456.5 229.6L456.8 227.6L457.1 226.0L457.4 225.4L457.7 226.0L458.0 227.9L458.3 230.8L458.6 234.2L458.9 237.7L459.2 240.9L459.5 243.4L459.8 245.1L460.1 246.1L460.4 246.4L460.7 246.3L461.0 245.8L461.3 245.4L461.6 245.2L461.9 245.5L462.2 246.3L462.5 247.5L462.8 249.0L463.1 250.7L463.4 252.2L463.7 253.5L464.0 254.4L464.3 255.0L464.6 255.3L464.9 255.4L465.2 255.2L465.5 255.0L465.8 254.7L466.1 254.6L466.4 254.6L466.7 254.9L467.0 255.3L467.3 255.9L467.6 256.5L467.9 257.1L468.2 257.6L468.5 258.0L468.8 258.3L469.1 258.6L469.4 258.7L469.7 258.9L470.0 259.0L470.3 259.0L470.6 259.1L470.9 259.1L471.2 259.2L471.5 259.2L471.5 259.6Z" fill="#959595"/>
<path d="M424.40 259.31L458.47 297.37M428.81 259.31L462.87 297.37M433.22 259.31L467.28 297.37M437.62 259.31L471.69 297.37M442.03 259.31L476.10 297.37M446.44 259.31L480.50 297.37M450.85 259.31L484.91 297.37M455.25 259.31L489.32 297.37M459.66 259.31L493.73 297.37M464.07 259.31L498.13 297.37M468.48 259.31L502.54 297.37M472.88 259.31L506.95 297.37M477.29 259.31L511.36 297.37M481.70 259.31L515.77 297.37" stroke="#8e8e8e" stroke-width="0.55" fill="none"/>
<path d="M423.4 259.31h58.3" stroke="#aaa" stroke-width="0.6" fill="none"/>
<path d="M441.43 278.34h57.3" stroke="#666" stroke-width="0.6" fill="none"/>
<path d="M458.47 297.37h57.3" stroke="#444" stroke-width="0.65" fill="none"/>
<path d="M482.9 297.7L482.9 297.3L483.2 297.2L483.5 297.1L483.8 297.0L484.1 296.9L484.4 296.7L484.7 296.5L485.0 296.1L485.3 295.6L485.6 294.7L485.9 293.2L486.2 290.7L486.5 286.9L486.8 281.8L487.1 275.8L487.4 270.2L487.7 266.1L488.0 264.9L488.3 266.9L488.6 271.4L488.9 277.3L489.2 283.1L489.5 287.9L489.8 291.4L490.1 293.6L490.4 294.9L490.7 295.7L491.0 296.2L491.3 296.5L491.6 296.7L491.9 296.9L492.2 297.1L492.5 297.2L492.8 297.2L493.1 297.3L493.1 297.7Z" fill="#000000"/>
<text x="469.6 476.6 482.6 489.1 497.5 503.6" y="307.8" font-size="10" font-weight="bold" stroke="#000" stroke-width="0.25">TRBV12</text>
<path d="M200.0 350.5L200.0 350.1L200.3 350.0L200.6 350.0L200.9 349.9L201.2 349.8L201.5 349.7L201.8 349.6L202.1 349.4L202.4 349.2L202.7 348.8L203.0 348.3L203.3 347.6L203.6 346.8L203.9 346.0L204.2 345.3L204.5 344.8L204.8 344.6L205.1 344.8L205.4 345.2L205.7 345.8L206.0 346.3L206.3 346.6L206.6 346.8L206.9 346.5L207.2 345.9L207.5 344.8L207.8 343.2L208.1 341.1L208.4 338.8L208.7 336.5L209.0 334.7L209.3 333.8L209.6 333.9L209.9 335.0L210.2 336.8L210.5 338.8L210.8 340.6L211.1 341.9L211.4 342.5L211.7 342.4L212.0 341.4L212.3 339.5L212.6 336.5L212.9 332.6L213.2 328.0L213.5 323.4L213.8 319.7L214.1 317.6L214.4 317.5L214.7 319.5L215.0 323.0L215.3 327.0L215.6 330.6L215.9 333.3L216.2 334.5L216.5 334.1L216.8 331.9L217.1 328.2L217.4 323.2L217.7 317.7L218.0 312.8L218.3 309.5L218.6 308.7L218.9 310.6L219.2 314.7L219.5 320.0L219.8 325.5L220.1 330.3L220.4 333.7L220.7 335.5L221.0 335.8L221.3 334.5L221.6 331.7L221.9 327.5L222.2 322.5L222.5 317.5L222.8 313.4L223.1 311.4L223.4 311.8L223.7 314.8L224.0 319.4L224.3 324.9L224.6 330.1L224.9 334.5L225.2 337.5L225.5 339.3L225.8 339.8L226.1 339.4L226.4 338.0L226.7 336.2L227.0 334.2L227.3 332.7L227.6 332.0L227.9 332.4L228.2 333.9L228.5 336.1L228.8 338.7L229.1 341.2L229.4 343.3L229.7 344.8L230.0 345.8L230.3 346.3L230.6 346.4L230.9 346.2L231.2 345.7L231.5 345.1L231.8 344.6L232.1 344.2L232.4 344.1L232.7 344.5L233.0 345.1L233.3 346.0L233.6 346.9L233.9 347.7L234.2 348.3L234.5 348.8L234.8 349.2L235.1 349.4L235.4 349.6L235.7 349.7L236.0 349.8L236.3 349.9L236.6 350.0L236.9 350.0L237.2 350.1L237.2 350.5Z" fill="#959595"/>
<path d="M190.80 350.17L225.18 388.58M195.21 350.17L229.58 388.58M199.62 350.17L233.99 388.58M204.02 350.17L238.40 388.58M208.43 350.17L242.81 388.58M212.84 350.17L247.21 388.58M217.25 350.17L251.62 388.58M221.65 350.17L256.03 388.58M226.06 350.17L260.44 388.58M230.47 350.17L264.84 388.58M234.88 350.17L269.25 388.58M239.28 350.17L273.66 388.58M243.69 350.17L278.07 388.58M248.10 350.17L282.48 388.58" stroke="#8e8e8e" stroke-width="0.55" fill="none"/>
<path d="M189.8 350.17h58.3" stroke="#aaa" stroke-width="0.6" fill="none"/>
<path d="M207.83 369.20h57.3" stroke="#666" stroke-width="0.6" fill="none"/>
<path d="M225.18 388.58h57.3" stroke="#444" stroke-width="0.65" fill="none"/>
<path d="M214.4 369.5L214.4 369.1L214.7 369.1L215.0 369.0L215.3 368.9L215.6 368.7L215.9 368.4L216.2 368.1L216.5 367.9L216.8 367.8L217.1 367.9L217.4 368.1L217.7 368.3L218.0 368.6L218.3 368.8L218.6 369.0L218.9 369.1L219.2 369.1L219.5 369.1L219.8 369.2L220.1 369.2L220.4 369.2L220.7 369.2L221.0 369.2L221.3 369.2L221.6 369.2L221.9 369.2L222.2 369.2L222.5 369.2L222.8 369.2L223.1 369.2L223.4 369.2L223.7 369.2L224.0 369.2L224.3 369.2L224.6 369.2L224.9 369.2L225.2 369.2L225.5 369.2L225.8 369.2L226.1 369.2L226.4 369.2L226.7 369.2L227.0 369.1L227.3 369.1L227.6 369.1L227.9 369.0L228.2 369.0L228.5 368.9L228.8 368.7L229.1 368.4L229.4 367.9L229.7 367.1L230.0 366.1L230.3 364.9L230.6 363.9L230.9 363.2L231.2 363.2L231.5 363.8L231.8 364.7L232.1 365.7L232.4 366.5L232.7 367.0L233.0 367.1L233.3 366.8L233.6 366.2L233.9 364.9L234.2 362.9L234.5 359.8L234.8 355.6L235.1 350.4L235.4 345.0L235.7 340.2L236.0 337.1L236.3 336.4L236.6 338.3L236.9 342.4L237.2 347.6L237.5 353.1L237.8 357.8L238.1 361.5L238.4 364.2L238.7 365.9L239.0 366.9L239.3 367.6L239.6 368.0L239.9 368.3L240.2 368.5L240.5 368.7L240.8 368.8L241.1 368.9L241.1 369.5Z" fill="#585858"/>
<path d="M236.0 388.9L236.0 388.3L236.3 388.2L236.6 388.0L236.9 387.8L237.2 387.6L237.5 387.2L237.8 386.8L238.1 386.0L238.4 384.9L238.7 383.1L239.0 380.2L239.3 376.0L239.6 370.4L239.9 363.6L240.2 356.5L240.5 350.4L240.8 346.6L241.1 346.0L241.4 348.8L241.7 354.3L242.0 361.2L242.3 368.2L242.6 374.3L242.9 379.0L243.2 382.3L243.5 384.4L243.8 385.7L244.1 386.5L244.4 387.1L244.7 387.5L245.0 387.7L245.3 387.9L245.6 388.1L245.9 388.2L246.2 388.3L246.5 388.4L246.8 388.5L247.1 388.5L247.4 388.5L247.7 388.5L248.0 388.5L248.3 388.4L248.6 388.3L248.9 388.2L249.2 388.1L249.5 387.9L249.8 387.6L250.1 387.2L250.4 386.6L250.7 385.9L251.0 384.9L251.3 383.8L251.6 382.2L251.9 379.8L252.2 376.2L252.5 371.1L252.8 364.7L253.1 357.6L253.4 351.1L253.7 346.5L254.0 345.0L254.3 346.9L254.6 351.7L254.9 358.3L255.2 365.3L255.5 371.5L255.8 376.2L256.1 379.3L256.4 380.9L256.7 381.0L257.0 379.6L257.3 376.8L257.6 372.2L257.9 366.2L258.2 359.3L258.5 352.6L258.8 347.4L259.1 345.0L259.4 346.1L259.7 350.3L260.0 356.7L260.3 364.0L260.6 370.8L260.9 376.4L261.2 380.5L261.5 383.3L261.8 385.0L262.1 386.1L262.4 386.8L262.7 387.2L263.0 387.6L263.3 387.8L263.6 388.0L263.9 388.2L263.9 388.9Z" fill="#000000"/>
<text x="235.1 242.1 248.1 254.6 263.0 269.1" y="399.0" font-size="10" font-weight="bold" stroke="#000" stroke-width="0.25">TRBV13</text>
<path d="M277.2 350.5L277.2 350.1L277.5 350.1L277.8 350.0L278.1 350.0L278.4 349.9L278.7 349.8L279.0 349.6L279.3 349.4L279.6 349.0L279.9 348.7L280.2 348.4L280.5 348.2L280.8 348.1L281.1 348.2L281.4 348.4L281.7 348.7L282.0 348.9L282.3 349.1L282.6 349.2L282.9 349.2L283.2 349.0L283.5 348.7L283.8 348.2L284.1 347.7L284.4 347.1L284.7 346.6L285.0 346.4L285.3 346.4L285.6 346.8L285.9 347.2L286.2 347.8L286.5 348.2L286.8 348.6L287.1 348.7L287.4 348.6L287.7 348.3L288.0 347.8L288.3 347.0L288.6 345.9L288.9 344.7L289.2 343.5L289.5 342.7L289.8 342.4L290.1 342.6L290.4 343.2L290.7 344.0L291.0 344.7L291.3 345.1L291.6 344.9L291.9 344.0L292.2 342.2L292.5 339.3L292.8 335.4L293.1 330.8L293.4 326.2L293.7 322.6L294.0 320.8L294.3 321.4L294.6 324.2L294.9 328.3L295.2 332.9L295.5 337.1L295.8 340.3L296.1 342.4L296.4 343.4L296.7 343.4L297.0 342.4L297.3 340.8L297.6 338.6L297.9 336.3L298.2 334.6L298.5 333.8L298.8 334.2L299.1 335.7L299.4 337.9L299.7 340.4L300.0 342.6L300.3 344.2L300.6 345.1L300.9 345.4L301.2 344.9L301.5 343.7L301.8 341.7L302.1 339.1L302.4 336.1L302.7 333.5L303.0 331.6L303.3 331.2L303.6 332.2L303.9 334.4L304.2 337.2L304.5 340.0L304.8 342.3L305.1 343.9L305.4 344.6L305.7 344.6L306.0 343.7L306.3 342.1L306.6 339.8L306.9 337.2L307.2 334.9L307.5 333.3L307.8 332.9L308.1 333.9L308.4 335.9L308.7 338.5L309.0 341.0L309.3 343.2L309.6 344.6L309.9 345.4L310.2 345.4L310.5 344.8L310.8 343.5L311.1 341.7L311.4 339.7L311.7 337.8L312.0 336.6L312.3 336.4L312.6 337.2L312.9 339.0L313.2 341.2L313.5 343.4L313.8 345.3L314.1 346.8L314.4 347.8L314.7 348.5L315.0 349.0L315.3 349.3L315.6 349.5L315.9 349.7L316.2 349.8L316.5 349.9L316.8 350.0L316.8 350.5Z" fill="#959595"/>
<path d="M269.00 350.17L303.38 388.58M273.41 350.17L307.78 388.58M277.82 350.17L312.19 388.58M282.22 350.17L316.60 388.58M286.63 350.17L321.01 388.58M291.04 350.17L325.41 388.58M295.45 350.17L329.82 388.58M299.85 350.17L334.23 388.58M304.26 350.17L338.64 388.58M308.67 350.17L343.04 388.58M313.08 350.17L347.45 388.58M317.48 350.17L351.86 388.58M321.89 350.17L356.27 388.58M326.30 350.17L360.68 388.58" stroke="#8e8e8e" stroke-width="0.55" fill="none"/>
<path d="M268.0 350.17h58.3" stroke="#aaa" stroke-width="0.6" fill="none"/>
<path d="M285.72 368.86h57.3" stroke="#666" stroke-width="0.6" fill="none"/>
<path d="M303.38 388.58h57.3" stroke="#444" stroke-width="0.65" fill="none"/>
<path d="M310.8 388.9L310.8 388.5L311.1 388.4L311.4 388.3L311.7 388.2L312.0 388.0L312.3 387.8L312.6 387.3L312.9 386.5L313.2 385.1L313.5 382.9L313.8 379.7L314.1 376.0L314.4 372.8L314.7 371.1L315.0 371.4L315.3 373.8L315.6 377.3L315.9 380.8L316.2 383.7L316.5 385.7L316.8 386.9L317.1 387.5L317.4 387.9L317.7 388.1L318.0 388.2L318.3 388.3L318.6 388.4L318.9 388.5L319.2 388.5L319.5 388.5L319.8 388.5L320.1 388.4L320.4 388.4L320.7 388.3L321.0 388.2L321.3 388.0L321.6 387.7L321.9 387.3L322.2 386.4L322.5 384.9L322.8 382.6L323.1 379.7L323.4 376.6L323.7 374.3L324.0 373.5L324.3 374.6L324.6 377.2L324.9 380.3L325.2 383.1L325.5 385.3L325.8 386.6L326.1 387.4L326.4 387.8L326.7 388.1L327.0 388.2L327.3 388.3L327.6 388.4L327.9 388.4L328.2 388.4L328.5 388.4L328.8 388.4L329.1 388.3L329.4 388.2L329.7 388.1L330.0 387.9L330.3 387.6L330.6 387.3L330.9 386.8L331.2 386.0L331.5 384.7L331.8 382.5L332.1 378.9L332.4 373.5L332.7 366.4L333.0 358.2L333.3 350.6L333.6 345.4L333.9 344.2L334.2 347.4L334.5 353.9L334.8 362.0L335.1 369.8L335.4 376.2L335.7 380.8L336.0 383.7L336.3 385.4L336.6 386.4L336.9 387.0L337.2 387.5L337.5 387.8L337.8 388.0L338.1 388.2L338.1 388.9Z" fill="#000000"/>
<text x="314.2 321.2 327.2 333.7 342.1 348.2" y="399.0" font-size="10" font-weight="bold" stroke="#000" stroke-width="0.25">TRBV14</text>
<path d="M357.0 350.5L357.0 350.0L357.3 350.0L357.6 349.9L357.9 349.8L358.2 349.7L358.5 349.5L358.8 349.4L359.1 349.1L359.4 348.8L359.7 348.3L360.0 347.6L360.3 346.6L360.6 345.4L360.9 343.9L361.2 342.3L361.5 341.0L361.8 340.1L362.1 339.8L362.4 340.1L362.7 340.9L363.0 341.9L363.3 342.9L363.6 343.5L363.9 343.6L364.2 342.9L364.5 341.5L364.8 339.3L365.1 336.4L365.4 333.2L365.7 330.1L366.0 327.8L366.3 326.8L366.6 327.4L366.9 329.3L367.2 332.2L367.5 335.3L367.8 338.0L368.1 340.1L368.4 341.4L368.7 341.7L369.0 341.2L369.3 339.6L369.6 337.1L369.9 333.8L370.2 329.9L370.5 326.1L370.8 323.1L371.1 321.7L371.4 322.1L371.7 324.2L372.0 327.5L372.3 331.1L372.6 334.5L372.9 337.0L373.2 338.4L373.5 338.6L373.8 337.6L374.1 335.2L374.4 331.5L374.7 326.9L375.0 322.0L375.3 317.5L375.6 314.6L375.9 313.9L376.2 315.6L376.5 319.3L376.8 324.1L377.1 329.1L377.4 333.4L377.7 336.6L378.0 338.5L378.3 339.1L378.6 338.6L378.9 337.2L379.2 335.2L379.5 333.2L379.8 331.7L380.1 331.1L380.4 331.7L380.7 333.3L381.0 335.7L381.3 338.4L381.6 340.8L381.9 342.8L382.2 344.1L382.5 344.7L382.8 344.8L383.1 344.4L383.4 343.6L383.7 342.7L384.0 342.0L384.3 341.5L384.6 341.6L384.9 342.2L385.2 343.3L385.5 344.5L385.8 345.8L386.1 346.9L386.4 347.8L386.7 348.4L387.0 348.9L387.3 349.2L387.6 349.4L387.9 349.6L388.2 349.7L388.5 349.8L388.8 349.9L389.1 350.0L389.4 350.0L389.4 350.5Z" fill="#959595"/>
<path d="M347.20 350.17L381.73 388.75M351.61 350.17L386.14 388.75M356.02 350.17L390.55 388.75M360.42 350.17L394.95 388.75M364.83 350.17L399.36 388.75M369.24 350.17L403.77 388.75M373.65 350.17L408.18 388.75M378.05 350.17L412.58 388.75M382.46 350.17L416.99 388.75M386.87 350.17L421.40 388.75M391.28 350.17L425.81 388.75M395.68 350.17L430.21 388.75M400.09 350.17L434.62 388.75M404.50 350.17L439.03 388.75" stroke="#8e8e8e" stroke-width="0.55" fill="none"/>
<path d="M346.2 350.17h58.3" stroke="#aaa" stroke-width="0.6" fill="none"/>
<path d="M364.23 369.20h57.3" stroke="#666" stroke-width="0.6" fill="none"/>
<path d="M381.73 388.75h57.3" stroke="#444" stroke-width="0.65" fill="none"/>
<path d="M379.3 369.5L379.3 369.0L379.6 368.9L379.9 368.8L380.2 368.6L380.5 368.3L380.8 367.9L381.1 367.3L381.4 366.1L381.7 364.0L382.0 360.6L382.3 356.0L382.6 350.6L382.9 345.8L383.2 343.0L383.5 342.6L383.8 342.3L384.1 341.8L384.4 342.7L384.7 345.8L385.0 349.4L385.3 351.9L385.6 352.3L385.9 350.2L386.2 346.0L386.5 340.8L386.8 335.5L387.1 331.2L387.4 328.8L387.7 328.4L388.0 328.1L388.3 327.5L388.6 326.7L388.9 327.2L389.2 329.1L389.5 331.3L389.8 332.9L390.1 333.1L390.4 331.7L390.7 329.2L391.0 326.7L391.3 325.3L391.6 325.6L391.9 326.2L392.2 326.5L392.5 326.6L392.8 328.0L393.1 331.6L393.4 336.9L393.7 342.8L394.0 348.4L394.3 353.3L394.6 357.0L394.9 359.6L395.2 361.3L395.5 362.4L395.8 363.0L396.1 363.3L396.4 363.5L396.7 363.7L397.0 363.7L397.3 363.8L397.6 363.9L397.9 364.0L398.2 364.1L398.5 364.1L398.8 364.3L399.1 364.4L399.4 364.5L399.7 364.7L400.0 364.9L400.3 365.1L400.6 365.3L400.9 365.5L401.2 365.8L401.5 366.0L401.8 366.2L402.1 366.4L402.4 366.6L402.7 366.8L403.0 367.0L403.3 367.1L403.6 367.1L403.9 367.1L404.2 367.0L404.5 366.9L404.8 366.5L405.1 365.7L405.4 364.3L405.7 361.7L406.0 357.2L406.3 350.6L406.6 342.7L406.9 335.2L407.2 330.4L407.5 329.7L407.8 329.7L408.1 329.7L408.4 329.8L408.7 329.8L409.0 329.8L409.3 330.3L409.6 334.7L409.9 342.1L410.2 350.2L410.5 357.0L410.8 361.8L411.1 364.8L411.4 366.4L411.7 367.4L412.0 367.9L412.3 368.3L412.6 368.5L412.9 368.7L413.2 368.9L413.5 369.0L413.8 369.0L414.1 369.1L414.4 369.1L414.4 369.5Z" fill="#585858"/>
<path d="M398.9 389.1L398.9 388.7L399.2 388.6L399.5 388.6L399.8 388.5L400.1 388.4L400.4 388.1L400.7 387.7L401.0 386.8L401.3 385.6L401.6 384.0L401.9 382.4L402.2 381.4L402.5 381.4L402.8 382.4L403.1 384.0L403.4 385.6L403.7 386.8L404.0 387.7L404.3 388.1L404.6 388.4L404.9 388.5L405.2 388.6L405.5 388.6L405.8 388.7L406.1 388.7L406.4 388.7L406.7 388.7L407.0 388.7L407.3 388.7L407.6 388.6L407.9 388.6L408.2 388.5L408.5 388.4L408.8 388.2L409.1 388.0L409.4 387.5L409.7 386.6L410.0 385.0L410.3 382.6L410.6 379.5L410.9 376.5L411.2 374.6L411.5 374.7L411.8 376.6L412.1 379.6L412.4 382.7L412.7 385.1L413.0 386.6L413.3 387.5L413.6 388.0L413.9 388.3L414.2 388.4L414.5 388.5L414.8 388.6L414.8 389.1Z" fill="#000000"/>
<text x="392.6 399.6 405.6 412.1 420.5 426.6" y="399.2" font-size="10" font-weight="bold" stroke="#000" stroke-width="0.25">TRBV15</text>
<path d="M435.3 350.5L435.3 350.1L435.6 350.1L435.9 350.0L436.2 349.9L436.5 349.8L436.8 349.6L437.1 349.3L437.4 348.7L437.7 348.0L438.0 347.1L438.3 346.3L438.6 345.9L438.9 345.9L439.2 346.5L439.5 347.2L439.8 348.0L440.1 348.6L440.4 348.9L440.7 349.0L441.0 348.8L441.3 348.3L441.6 347.4L441.9 345.8L442.2 343.4L442.5 340.3L442.8 337.0L443.1 334.6L443.4 333.7L443.7 334.8L444.0 337.4L444.3 340.6L444.6 343.4L444.9 345.5L445.2 346.6L445.5 346.9L445.8 346.6L446.1 345.5L446.4 343.3L446.7 339.5L447.0 334.0L447.3 327.5L447.6 321.4L447.9 317.8L448.2 317.8L448.5 321.5L448.8 327.5L449.1 333.8L449.4 338.9L449.7 342.3L450.0 344.0L450.3 344.3L450.6 343.2L450.9 340.5L451.2 335.6L451.5 328.6L451.8 320.1L452.1 312.2L452.4 307.5L452.7 307.7L453.0 312.7L453.3 320.7L453.6 329.2L453.9 336.2L454.2 341.0L454.5 343.8L454.8 345.0L455.1 345.1L455.4 344.1L455.7 341.8L456.0 337.8L456.3 332.4L456.6 326.5L456.9 321.8L457.2 319.9L457.5 321.6L457.8 326.2L458.1 332.2L458.4 337.8L458.7 342.1L459.0 344.8L459.3 346.3L459.6 346.8L459.9 346.7L460.2 345.7L460.5 343.9L460.8 341.0L461.1 337.4L461.4 333.9L461.7 331.6L462.0 331.3L462.3 333.3L462.6 336.7L462.9 340.5L463.2 343.7L463.5 345.9L463.8 347.3L464.1 347.9L464.4 348.0L464.7 347.5L465.0 346.6L465.3 345.0L465.6 343.1L465.9 341.2L466.2 340.0L466.5 339.9L466.8 341.0L467.1 342.9L467.4 345.0L467.7 346.8L468.0 348.1L468.3 348.9L468.6 349.3L468.9 349.6L469.2 349.8L469.5 349.9L469.8 350.0L470.1 350.0L470.1 350.5Z" fill="#959595"/>
<path d="M424.40 350.17L458.78 388.58M428.81 350.17L463.18 388.58M433.22 350.17L467.59 388.58M437.62 350.17L472.00 388.58M442.03 350.17L476.41 388.58M446.44 350.17L480.81 388.58M450.85 350.17L485.22 388.58M455.25 350.17L489.63 388.58M459.66 350.17L494.04 388.58M464.07 350.17L498.44 388.58M468.48 350.17L502.85 388.58M472.88 350.17L507.26 388.58M477.29 350.17L511.67 388.58M481.70 350.17L516.08 388.58" stroke="#8e8e8e" stroke-width="0.55" fill="none"/>
<path d="M423.4 350.17h58.3" stroke="#aaa" stroke-width="0.6" fill="none"/>
<path d="M440.66 368.34h57.3" stroke="#666" stroke-width="0.6" fill="none"/>
<path d="M458.78 388.58h57.3" stroke="#444" stroke-width="0.65" fill="none"/>
<path d="M461.2 368.6L461.2 368.2L461.5 368.2L461.8 368.1L462.1 368.0L462.4 367.9L462.7 367.8L463.0 367.7L463.3 367.5L463.6 367.2L463.9 366.8L464.2 366.2L464.5 365.4L464.8 364.1L465.1 362.4L465.4 360.0L465.7 357.2L466.0 353.9L466.3 350.5L466.6 347.3L466.9 344.4L467.2 341.9L467.5 339.6L467.8 337.4L468.1 335.0L468.4 332.3L468.7 329.7L469.0 327.5L469.3 326.2L469.6 326.1L469.9 327.3L470.2 329.6L470.5 332.5L470.8 335.6L471.1 338.5L471.4 341.1L471.7 343.6L472.0 346.0L472.3 348.5L472.6 351.1L472.9 353.8L473.2 356.3L473.5 358.7L473.8 360.7L474.1 362.2L474.4 363.4L474.7 364.2L475.0 364.7L475.3 365.1L475.6 365.4L475.9 365.6L476.2 365.7L476.5 365.9L476.8 366.0L477.1 366.1L477.4 366.3L477.7 366.4L478.0 366.5L478.3 366.6L478.6 366.8L478.9 366.9L479.2 367.0L479.5 367.1L479.8 367.2L480.1 367.4L480.4 367.5L480.7 367.6L481.0 367.7L481.3 367.7L481.6 367.8L481.9 367.9L482.2 367.9L482.5 368.0L482.8 368.0L483.1 368.1L483.4 368.1L483.7 368.1L484.0 368.2L484.3 368.2L484.6 368.2L484.9 368.2L485.2 368.2L485.5 368.2L485.8 368.3L485.8 368.6Z" fill="#585858"/>
<path d="M465.3 388.9L465.3 388.5L465.6 388.4L465.9 388.4L466.2 388.3L466.5 388.1L466.8 387.8L467.1 387.2L467.4 386.2L467.7 385.0L468.0 383.9L468.3 383.1L468.6 383.1L468.9 383.9L469.2 385.0L469.5 386.2L469.8 387.1L470.1 387.6L470.4 387.9L470.7 388.0L471.0 387.9L471.3 387.6L471.6 387.3L471.9 386.7L472.2 385.6L472.5 383.4L472.8 379.1L473.1 372.0L473.4 362.2L473.7 351.9L474.0 345.1L474.3 344.9L474.6 351.4L474.9 361.5L475.2 371.5L475.5 378.8L475.8 383.2L476.1 385.5L476.4 386.7L476.7 387.3L477.0 387.7L477.3 388.0L477.6 388.2L477.9 388.4L478.2 388.5L478.5 388.5L478.8 388.5L479.1 388.6L479.4 388.6L479.7 388.6L480.0 388.6L480.3 388.6L480.6 388.6L480.9 388.6L481.2 388.6L481.5 388.5L481.8 388.5L482.1 388.5L482.4 388.4L482.7 388.4L483.0 388.2L483.3 388.0L483.6 387.6L483.9 387.0L484.2 386.2L484.5 385.5L484.8 385.1L485.1 385.2L485.4 385.8L485.7 386.5L486.0 387.2L486.3 387.8L486.6 388.1L486.9 388.3L487.2 388.4L487.5 388.5L487.5 388.9Z" fill="#000000"/>
<text x="470.0 476.9 483.0 489.4 497.9 504.0" y="399.0" font-size="10" font-weight="bold" stroke="#000" stroke-width="0.25">TRBV18</text>
<path d="M199.4 439.1L199.4 438.7L199.7 438.6L200.0 438.6L200.3 438.5L200.6 438.4L200.9 438.3L201.2 438.2L201.5 438.0L201.8 437.8L202.1 437.4L202.4 436.9L202.7 436.3L203.0 435.4L203.3 434.3L203.6 433.2L203.9 432.3L204.2 431.7L204.5 431.5L204.8 431.8L205.1 432.5L205.4 433.3L205.7 434.1L206.0 434.8L206.3 435.1L206.6 435.1L206.9 434.8L207.2 433.9L207.5 432.6L207.8 430.9L208.1 428.9L208.4 427.0L208.7 425.5L209.0 424.7L209.3 424.7L209.6 425.6L209.9 427.0L210.2 428.5L210.5 429.9L210.8 430.7L211.1 430.9L211.4 430.3L211.7 428.7L212.0 426.1L212.3 422.4L212.6 417.8L212.9 413.0L213.2 408.6L213.5 405.6L213.8 404.7L214.1 406.0L214.4 409.1L214.7 413.2L215.0 417.3L215.3 420.8L215.6 423.0L215.9 423.7L216.2 422.7L216.5 420.0L216.8 415.7L217.1 410.2L217.4 404.2L217.7 398.8L218.0 395.3L218.3 394.4L218.6 396.4L218.9 400.8L219.2 406.6L219.5 412.6L219.8 417.7L220.1 421.5L220.4 423.7L220.7 424.2L221.0 423.1L221.3 420.5L221.6 416.6L221.9 411.9L222.2 407.1L222.5 403.3L222.8 401.4L223.1 401.9L223.4 404.7L223.7 409.3L224.0 414.6L224.3 419.7L224.6 424.0L224.9 427.1L225.2 429.0L225.5 429.8L225.8 429.6L226.1 428.7L226.4 427.1L226.7 425.2L227.0 423.5L227.3 422.3L227.6 422.0L227.9 422.8L228.2 424.5L228.5 426.8L228.8 429.2L229.1 431.3L229.4 433.0L229.7 434.2L230.0 434.8L230.3 435.1L230.6 435.0L230.9 434.6L231.2 434.1L231.5 433.6L231.8 433.3L232.1 433.3L232.4 433.6L232.7 434.2L233.0 435.0L233.3 435.8L233.6 436.5L233.9 437.1L234.2 437.6L234.5 437.9L234.8 438.1L235.1 438.3L235.4 438.4L235.7 438.5L236.0 438.6L236.3 438.6L236.6 438.7L236.9 438.7L236.9 439.1Z" fill="#959595"/>
<path d="M190.80 438.79L225.02 477.02M195.21 438.79L229.43 477.02M199.62 438.79L233.84 477.02M204.02 438.79L238.24 477.02M208.43 438.79L242.65 477.02M212.84 438.79L247.06 477.02M217.25 438.79L251.47 477.02M221.65 438.79L255.87 477.02M226.06 438.79L260.28 477.02M230.47 438.79L264.69 477.02M234.88 438.79L269.10 477.02M239.28 438.79L273.51 477.02M243.69 438.79L277.91 477.02M248.10 438.79L282.32 477.02" stroke="#8e8e8e" stroke-width="0.55" fill="none"/>
<path d="M189.8 438.79h58.3" stroke="#aaa" stroke-width="0.6" fill="none"/>
<path d="M207.06 456.96h57.3" stroke="#666" stroke-width="0.6" fill="none"/>
<path d="M225.02 477.02h57.3" stroke="#444" stroke-width="0.65" fill="none"/>
<path d="M222.9 457.3L222.9 456.7L223.2 456.6L223.5 456.4L223.8 456.1L224.1 455.7L224.4 455.1L224.7 453.9L225.0 451.7L225.3 447.8L225.6 441.7L225.9 434.1L226.2 426.6L226.5 421.8L226.8 421.7L227.1 426.3L227.4 433.7L227.7 441.1L228.0 446.8L228.3 450.4L228.6 452.0L228.9 452.1L229.2 451.0L229.5 448.1L229.8 443.1L230.1 435.6L230.4 426.7L230.7 418.3L231.0 413.2L231.3 413.2L231.6 418.5L231.9 427.0L232.2 436.1L232.5 443.7L232.8 449.0L233.1 452.2L233.4 454.0L233.7 455.0L234.0 455.6L234.3 456.0L234.6 456.3L234.9 456.5L234.9 457.3Z" fill="#585858"/>
<path d="M234.8 477.3L234.8 476.7L235.1 476.6L235.4 476.4L235.7 476.3L236.0 476.0L236.3 475.7L236.6 475.2L236.9 474.5L237.2 473.3L237.5 471.5L237.8 468.6L238.1 464.4L238.4 458.7L238.7 451.9L239.0 444.8L239.3 438.7L239.6 434.9L239.9 434.3L240.2 437.1L240.5 442.6L240.8 449.5L241.1 456.6L241.4 462.7L241.7 467.4L242.0 470.7L242.3 472.8L242.6 474.2L242.9 475.0L243.2 475.5L243.5 475.9L243.8 476.2L244.1 476.4L244.4 476.6L244.7 476.7L245.0 476.8L245.3 476.8L245.6 476.9L245.9 476.9L246.2 476.9L246.5 476.9L246.8 476.9L247.1 476.9L247.4 476.8L247.7 476.6L248.0 476.3L248.3 475.9L248.6 475.3L248.9 474.8L249.2 474.5L249.5 474.5L249.8 474.9L250.1 475.4L250.4 476.0L250.7 476.4L251.0 476.7L251.3 476.8L251.6 476.9L251.9 476.9L252.2 477.0L252.5 477.0L252.8 477.0L253.1 477.0L253.4 477.0L253.7 477.0L254.0 477.0L254.3 477.0L254.6 477.0L254.9 477.0L255.2 477.0L255.5 477.0L255.8 477.0L256.1 477.0L256.4 477.0L256.7 477.0L257.0 477.0L257.3 477.0L257.6 477.0L257.9 477.0L258.2 477.0L258.5 477.0L258.8 477.0L259.1 477.0L259.4 477.0L259.7 476.9L260.0 476.9L260.3 476.8L260.6 476.6L260.9 476.3L261.2 475.8L261.5 475.1L261.8 474.5L262.1 474.0L262.4 473.9L262.7 474.3L263.0 474.9L263.3 475.6L263.6 476.2L263.9 476.5L264.2 476.7L264.5 476.8L264.8 476.9L264.8 477.3Z" fill="#000000"/>
<text x="235.1 242.1 248.1 254.6 263.0 269.1" y="487.4" font-size="10" font-weight="bold" stroke="#000" stroke-width="0.25">TRBV19</text>
<path d="M275.9 438.7L275.9 438.4L276.2 438.3L276.5 438.3L276.8 438.2L277.1 438.2L277.4 438.1L277.7 437.9L278.0 437.6L278.3 437.3L278.6 437.0L278.9 436.7L279.2 436.5L279.5 436.4L279.8 436.4L280.1 436.6L280.4 436.8L280.7 437.0L281.0 437.2L281.3 437.2L281.6 437.1L281.9 436.8L282.2 436.4L282.5 435.6L282.8 434.4L283.1 432.8L283.4 430.8L283.7 428.7L284.0 426.9L284.3 425.7L284.6 425.5L284.9 426.3L285.2 427.7L285.5 429.4L285.8 431.0L286.1 432.1L286.4 432.6L286.7 432.2L287.0 431.0L287.3 428.6L287.6 425.3L287.9 421.0L288.2 416.5L288.5 412.7L288.8 410.3L289.1 410.1L289.4 412.0L289.7 415.5L290.0 419.7L290.3 423.7L290.6 426.7L290.9 428.6L291.2 429.2L291.5 428.4L291.8 426.2L292.1 422.5L292.4 417.3L292.7 411.2L293.0 405.2L293.3 400.7L293.6 398.7L293.9 399.8L294.2 403.7L294.5 409.3L294.8 415.2L295.1 420.5L295.4 424.3L295.7 426.4L296.0 426.9L296.3 425.7L296.6 422.7L296.9 418.0L297.2 411.8L297.5 405.1L297.8 399.0L298.1 395.1L298.4 394.5L298.7 397.3L299.0 402.7L299.3 409.4L299.6 416.0L299.9 421.5L300.2 425.3L300.5 427.3L300.8 427.6L301.1 426.5L301.4 423.9L301.7 420.3L302.0 416.2L302.3 412.6L302.6 410.3L302.9 410.1L303.2 412.0L303.5 415.6L303.8 420.1L304.1 424.5L304.4 428.2L304.7 430.9L305.0 432.5L305.3 433.4L305.6 433.4L305.9 432.9L306.2 431.8L306.5 430.4L306.8 428.9L307.1 427.7L307.4 427.2L307.7 427.5L308.0 428.6L308.3 430.2L308.6 432.0L308.9 433.6L309.2 434.9L309.5 435.8L309.8 436.2L310.1 436.4L310.4 436.2L310.7 435.9L311.0 435.6L311.3 435.2L311.6 435.0L311.9 435.0L312.2 435.3L312.5 435.8L312.8 436.3L313.1 436.9L313.4 437.3L313.7 437.7L314.0 437.9L314.3 438.1L314.6 438.2L314.9 438.2L315.2 438.3L315.5 438.3L315.8 438.4L315.8 438.7Z" fill="#959595"/>
<path d="M269.00 438.44L303.07 476.51M273.41 438.44L307.47 476.51M277.82 438.44L311.88 476.51M282.22 438.44L316.29 476.51M286.63 438.44L320.70 476.51M291.04 438.44L325.10 476.51M295.45 438.44L329.51 476.51M299.85 438.44L333.92 476.51M304.26 438.44L338.33 476.51M308.67 438.44L342.73 476.51M313.08 438.44L347.14 476.51M317.48 438.44L351.55 476.51M321.89 438.44L355.96 476.51M326.30 438.44L360.37 476.51" stroke="#8e8e8e" stroke-width="0.55" fill="none"/>
<path d="M268.0 438.44h58.3" stroke="#aaa" stroke-width="0.6" fill="none"/>
<path d="M285.26 456.61h57.3" stroke="#666" stroke-width="0.6" fill="none"/>
<path d="M303.07 476.51h57.3" stroke="#444" stroke-width="0.65" fill="none"/>
<path d="M314.1 456.9L314.1 456.5L314.4 456.5L314.7 456.4L315.0 456.3L315.3 456.2L315.6 456.1L315.9 455.8L316.2 455.6L316.5 455.2L316.8 454.8L317.1 454.2L317.4 453.5L317.7 452.4L318.0 450.6L318.3 447.7L318.6 442.9L318.9 435.9L319.2 427.5L319.5 419.2L319.8 413.7L320.1 412.8L320.4 416.9L320.7 424.6L321.0 433.2L321.3 440.8L321.6 446.3L321.9 449.8L322.2 451.9L322.5 453.2L322.8 454.0L323.1 454.6L323.4 455.1L323.7 455.5L324.0 455.8L324.3 456.0L324.6 456.2L324.9 456.3L325.2 456.4L325.5 456.5L325.8 456.5L325.8 456.9Z" fill="#585858"/>
<path d="M324.6 476.8L324.6 476.4L324.9 476.4L325.2 476.3L325.5 476.2L325.8 476.1L326.1 476.0L326.4 475.8L326.7 475.4L327.0 474.8L327.3 473.8L327.6 472.3L327.9 470.1L328.2 467.6L328.5 465.2L328.8 463.3L329.1 462.7L329.4 463.3L329.7 465.2L330.0 467.6L330.3 470.1L330.6 472.3L330.9 473.8L331.2 474.8L331.5 475.4L331.8 475.8L332.1 476.0L332.4 476.1L332.7 476.2L333.0 476.3L333.3 476.4L333.6 476.4L333.9 476.4L334.2 476.5L334.5 476.5L334.8 476.5L335.1 476.5L335.4 476.5L335.7 476.5L336.0 476.5L336.3 476.4L336.6 476.4L336.9 476.3L337.2 476.2L337.5 476.1L337.8 475.8L338.1 475.3L338.4 474.4L338.7 473.3L339.0 472.2L339.3 471.5L339.6 471.3L339.9 471.9L340.2 472.8L340.5 473.7L340.8 474.3L341.1 474.5L341.4 474.2L341.7 473.4L342.0 472.1L342.3 470.1L342.6 467.3L342.9 464.0L343.2 460.8L343.5 458.4L343.8 457.5L344.1 458.4L344.4 460.9L344.7 464.3L345.0 467.7L345.3 470.6L345.6 472.8L345.9 474.2L346.2 475.0L346.5 475.5L346.8 475.8L347.1 476.0L347.4 476.1L347.7 476.2L348.0 476.3L348.3 476.4L348.3 476.8Z" fill="#000000"/>
<text x="314.2 321.2 327.2 333.7 342.1 348.2" y="486.9" font-size="10" font-weight="bold" stroke="#000" stroke-width="0.25">TRBV20</text>
<path d="M352.1 439.3L352.1 438.9L352.4 438.9L352.7 438.8L353.0 438.8L353.3 438.7L353.6 438.6L353.9 438.6L354.2 438.4L354.5 438.3L354.8 438.0L355.1 437.8L355.4 437.4L355.7 437.0L356.0 436.5L356.3 435.8L356.6 435.0L356.9 434.0L357.2 432.8L357.5 431.4L357.8 430.1L358.1 428.8L358.4 427.7L358.7 427.0L359.0 426.6L359.3 426.6L359.6 426.7L359.9 427.0L360.2 427.3L360.5 427.5L360.8 427.6L361.1 427.5L361.4 427.2L361.7 426.8L362.0 426.2L362.3 425.7L362.6 425.4L362.9 425.5L363.2 425.8L363.5 426.5L363.8 427.4L364.1 428.2L364.4 428.7L364.7 428.9L365.0 428.5L365.3 427.6L365.6 426.0L365.9 423.9L366.2 421.4L366.5 418.8L366.8 416.6L367.1 415.3L367.4 415.1L367.7 416.0L368.0 417.7L368.3 419.8L368.6 421.8L368.9 423.4L369.2 424.3L369.5 424.6L369.8 424.2L370.1 423.0L370.4 421.1L370.7 418.6L371.0 415.9L371.3 413.3L371.6 411.4L371.9 410.8L372.2 411.4L372.5 413.3L372.8 416.0L373.1 418.9L373.4 421.4L373.7 423.4L374.0 424.6L374.3 425.0L374.6 424.6L374.9 423.4L375.2 421.7L375.5 419.6L375.8 417.7L376.1 416.3L376.4 415.9L376.7 416.7L377.0 418.4L377.3 420.8L377.6 423.2L377.9 425.5L378.2 427.2L378.5 428.2L378.8 428.5L379.1 428.2L379.4 427.3L379.7 425.7L380.0 423.8L380.3 421.7L380.6 419.9L380.9 418.8L381.2 418.6L381.5 419.4L381.8 420.9L382.1 422.8L382.4 424.7L382.7 426.3L383.0 427.4L383.3 428.1L383.6 428.2L383.9 427.9L384.2 427.2L384.5 426.2L384.8 424.9L385.1 423.8L385.4 423.0L385.7 422.8L386.0 423.4L386.3 424.5L386.6 426.2L386.9 428.0L387.2 429.7L387.5 431.2L387.8 432.4L388.1 433.4L388.4 434.1L388.7 434.7L389.0 435.2L389.3 435.6L389.6 435.9L389.9 436.2L390.2 436.5L390.5 436.7L390.8 436.9L391.1 437.0L391.4 437.2L391.7 437.3L392.0 437.4L392.3 437.4L392.6 437.5L392.9 437.6L393.2 437.6L393.5 437.7L393.8 437.8L394.1 437.8L394.4 437.9L394.7 438.0L395.0 438.0L395.3 438.1L395.6 438.2L395.9 438.2L396.2 438.3L396.5 438.4L396.8 438.4L397.1 438.5L397.4 438.6L397.7 438.6L398.0 438.7L398.3 438.7L398.6 438.8L398.9 438.8L399.2 438.8L399.5 438.8L399.8 438.9L399.8 439.3Z" fill="#959595"/>
<path d="M347.20 438.96L381.27 477.02M351.61 438.96L385.67 477.02M356.02 438.96L390.08 477.02M360.42 438.96L394.49 477.02M364.83 438.96L398.90 477.02M369.24 438.96L403.30 477.02M373.65 438.96L407.71 477.02M378.05 438.96L412.12 477.02M382.46 438.96L416.53 477.02M386.87 438.96L420.93 477.02M391.28 438.96L425.34 477.02M395.68 438.96L429.75 477.02M400.09 438.96L434.16 477.02M404.50 438.96L438.57 477.02" stroke="#8e8e8e" stroke-width="0.55" fill="none"/>
<path d="M346.2 438.96h58.3" stroke="#aaa" stroke-width="0.6" fill="none"/>
<path d="M362.68 456.26h57.3" stroke="#666" stroke-width="0.6" fill="none"/>
<path d="M381.27 477.02h57.3" stroke="#444" stroke-width="0.65" fill="none"/>
<path d="M383.8 477.3L383.8 476.9L384.1 476.8L384.4 476.8L384.7 476.7L385.0 476.6L385.3 476.5L385.6 476.3L385.9 476.0L386.2 475.5L386.5 474.7L386.8 473.5L387.1 471.8L387.4 469.4L387.7 466.6L388.0 463.6L388.3 461.1L388.6 459.5L388.9 459.3L389.2 460.4L389.5 462.7L389.8 465.6L390.1 468.5L390.4 471.1L390.7 473.0L391.0 474.4L391.3 475.3L391.6 475.8L391.9 476.2L392.2 476.4L392.5 476.6L392.8 476.7L393.1 476.8L393.4 476.8L393.7 476.9L394.0 476.9L394.3 477.0L394.6 477.0L394.9 477.0L395.2 477.0L395.5 477.0L395.8 477.0L396.1 477.0L396.4 477.0L396.7 477.0L397.0 477.0L397.3 477.0L397.6 477.0L397.9 477.0L398.2 477.0L398.5 477.0L398.8 477.0L399.1 477.0L399.4 477.0L399.7 477.0L400.0 477.0L400.3 477.0L400.6 477.0L400.9 477.0L401.2 477.0L401.5 477.0L401.8 477.0L402.1 477.0L402.4 477.0L402.7 477.0L403.0 477.0L403.3 477.0L403.6 477.0L403.9 477.0L404.2 477.0L404.5 477.0L404.8 477.0L405.1 477.0L405.4 477.0L405.7 477.0L406.0 477.0L406.3 477.0L406.6 477.0L406.9 477.0L407.2 477.0L407.5 477.0L407.8 477.0L408.1 477.0L408.4 477.0L408.7 477.0L409.0 477.0L409.3 477.0L409.6 477.0L409.9 477.0L410.2 477.0L410.5 477.0L410.8 477.0L411.1 477.0L411.4 477.0L411.7 477.0L412.0 477.0L412.3 477.0L412.6 477.0L412.9 477.0L413.2 477.0L413.5 477.0L413.8 477.0L414.1 477.0L414.4 477.0L414.7 477.0L415.0 477.0L415.3 477.0L415.6 477.0L415.9 476.9L416.2 476.9L416.5 476.8L416.8 476.8L417.1 476.7L417.4 476.5L417.7 476.3L418.0 475.9L418.3 475.3L418.6 474.3L418.9 472.8L419.2 470.8L419.5 468.7L419.8 466.7L420.1 465.5L420.4 465.3L420.7 466.3L421.0 468.1L421.3 470.3L421.6 472.3L421.9 474.0L422.2 475.1L422.5 475.8L422.8 476.2L423.1 476.5L423.4 476.6L423.7 476.7L424.0 476.8L424.3 476.9L424.6 476.9L424.6 477.3Z" fill="#000000"/>
<text x="392.6 399.6 405.6 412.1 420.5 426.6" y="487.4" font-size="10" font-weight="bold" stroke="#000" stroke-width="0.25">TRBV21</text>
<path d="M428.65 438.96 L432.98 437.06 L436.44 428.93 L439.03 419.41 L441.63 414.22 L443.36 415.95 L445.95 402.98 L447.68 400.38 L449.41 405.57 L450.80 407.30 L452.35 401.25 L454.08 406.44 L455.12 408.17 L456.68 406.44 L458.41 412.49 L460.14 418.55 L462.39 424.60 L464.64 431.52 L467.58 435.33 L471.90 437.58 L476.23 438.96Z" fill="#959595" stroke="#959595" stroke-width="0.5" stroke-linejoin="round"/>
<path d="M424.40 438.96L458.78 477.37M428.81 438.96L463.18 477.37M433.22 438.96L467.59 477.37M437.62 438.96L472.00 477.37M442.03 438.96L476.41 477.37M446.44 438.96L480.81 477.37M450.85 438.96L485.22 477.37M455.25 438.96L489.63 477.37M459.66 438.96L494.04 477.37M464.07 438.96L498.44 477.37M468.48 438.96L502.85 477.37M472.88 438.96L507.26 477.37M477.29 438.96L511.67 477.37M481.70 438.96L516.08 477.37" stroke="#8e8e8e" stroke-width="0.55" fill="none"/>
<path d="M423.4 438.96h58.3" stroke="#aaa" stroke-width="0.6" fill="none"/>
<path d="M440.19 456.61h57.3" stroke="#666" stroke-width="0.6" fill="none"/>
<path d="M458.78 477.37h57.3" stroke="#444" stroke-width="0.65" fill="none"/>
<path d="M461.4 456.9L461.4 456.5L461.7 456.4L462.0 456.3L462.3 456.1L462.6 455.6L462.9 454.6L463.2 453.3L463.5 452.0L463.8 451.4L464.1 452.0L464.4 453.2L464.7 454.5L465.0 455.4L465.3 455.8L465.6 455.8L465.9 455.7L466.2 455.5L466.5 455.4L466.8 455.4L467.1 455.5L467.4 455.6L467.7 455.8L468.0 455.9L468.3 455.9L468.6 455.9L468.9 455.8L469.2 455.7L469.5 455.8L469.8 455.8L470.1 455.9L470.4 456.0L470.7 455.9L471.0 455.9L471.3 455.7L471.6 455.6L471.9 455.6L472.2 455.6L472.5 455.8L472.8 455.9L473.1 456.1L473.4 456.3L473.7 456.4L474.0 456.4L474.3 456.3L474.6 456.2L474.9 456.1L475.2 455.8L475.5 455.5L475.8 455.2L476.1 455.1L476.4 455.1L476.7 455.2L477.0 455.5L477.3 455.8L477.6 456.1L477.9 456.3L478.2 456.4L478.5 456.5L478.8 456.5L478.8 456.9Z" fill="#585858"/>
<path d="M483.5 477.7L483.5 477.3L483.8 477.2L484.1 477.2L484.4 477.1L484.7 476.9L485.0 476.7L485.3 476.4L485.6 475.8L485.9 474.7L486.2 472.9L486.5 470.4L486.8 467.5L487.1 465.0L487.4 463.6L487.7 463.9L488.0 465.8L488.3 468.5L488.6 471.3L488.9 473.6L489.2 475.1L489.5 476.0L489.8 476.5L490.1 476.8L490.4 477.0L490.7 477.1L491.0 477.2L491.3 477.2L491.3 477.7Z" fill="#000000"/>
<text x="469.6 476.6 482.6 489.1 497.5 503.6" y="487.8" font-size="10" font-weight="bold" stroke="#000" stroke-width="0.25">TRBV23</text>
<path d="M192.5 531.9L192.5 531.5L192.8 531.5L193.1 531.4L193.4 531.4L193.7 531.4L194.0 531.4L194.3 531.4L194.6 531.3L194.9 531.3L195.2 531.2L195.5 531.2L195.8 531.1L196.1 531.0L196.4 530.9L196.7 530.8L197.0 530.6L197.3 530.5L197.6 530.3L197.9 530.0L198.2 529.7L198.5 529.2L198.8 528.6L199.1 527.8L199.4 526.9L199.7 525.9L200.0 524.9L200.3 524.1L200.6 523.5L200.9 523.2L201.2 523.2L201.5 523.4L201.8 523.8L202.1 524.1L202.4 524.2L202.7 524.0L203.0 523.3L203.3 522.2L203.6 520.6L203.9 518.5L204.2 516.2L204.5 513.9L204.8 511.9L205.1 510.6L205.4 510.2L205.7 510.6L206.0 511.7L206.3 513.2L206.6 514.6L206.9 515.7L207.2 516.2L207.5 515.9L207.8 514.8L208.1 512.6L208.4 509.7L208.7 506.0L209.0 502.1L209.3 498.6L209.6 496.0L209.9 494.7L210.2 495.2L210.5 497.1L210.8 500.0L211.1 503.5L211.4 506.8L211.7 509.5L212.0 511.4L212.3 512.3L212.6 512.1L212.9 510.9L213.2 508.8L213.5 505.9L213.8 502.8L214.1 499.8L214.4 497.6L214.7 496.5L215.0 496.8L215.3 498.5L215.6 501.2L215.9 504.3L216.2 507.4L216.5 509.9L216.8 511.5L217.1 512.1L217.4 511.5L217.7 509.9L218.0 507.3L218.3 504.1L218.6 500.8L218.9 497.9L219.2 496.0L219.5 495.6L219.8 496.8L220.1 499.4L220.4 502.9L220.7 506.6L221.0 510.1L221.3 512.8L221.6 514.5L221.9 515.1L222.2 514.6L222.5 513.1L222.8 510.8L223.1 508.1L223.4 505.5L223.7 503.4L224.0 502.5L224.3 502.9L224.6 504.6L224.9 507.4L225.2 510.7L225.5 514.1L225.8 517.0L226.1 519.3L226.4 520.7L226.7 521.4L227.0 521.5L227.3 521.1L227.6 520.5L227.9 519.9L228.2 519.7L228.5 519.9L228.8 520.6L229.1 521.7L229.4 523.1L229.7 524.6L230.0 526.1L230.3 527.3L230.6 528.3L230.9 529.0L231.2 529.6L231.5 530.0L231.8 530.3L232.1 530.5L232.4 530.7L232.7 530.9L233.0 531.0L233.3 531.1L233.6 531.2L233.9 531.3L234.2 531.4L234.5 531.4L234.8 531.4L235.1 531.5L235.1 531.9Z" fill="#959595"/>
<path d="M190.80 531.56L224.87 569.62M195.21 531.56L229.27 569.62M199.62 531.56L233.68 569.62M204.02 531.56L238.09 569.62M208.43 531.56L242.50 569.62M212.84 531.56L246.90 569.62M217.25 531.56L251.31 569.62M221.65 531.56L255.72 569.62M226.06 531.56L260.13 569.62M230.47 531.56L264.53 569.62M234.88 531.56L268.94 569.62M239.28 531.56L273.35 569.62M243.69 531.56L277.76 569.62M248.10 531.56L282.17 569.62" stroke="#8e8e8e" stroke-width="0.55" fill="none"/>
<path d="M189.8 531.56h58.3" stroke="#aaa" stroke-width="0.6" fill="none"/>
<path d="M207.06 549.72h57.3" stroke="#666" stroke-width="0.6" fill="none"/>
<path d="M224.87 569.62h57.3" stroke="#444" stroke-width="0.65" fill="none"/>
<path d="M214.2 550.0L214.2 549.6L214.5 549.5L214.8 549.3L215.1 549.2L215.4 548.9L215.7 548.6L216.0 548.0L216.3 546.9L216.6 544.9L216.9 541.8L217.2 537.4L217.5 532.3L217.8 527.8L218.1 525.2L218.4 525.5L218.7 528.4L219.0 532.6L219.3 536.4L219.6 538.4L219.9 538.1L220.2 535.7L220.5 532.1L220.8 528.9L221.1 527.6L221.4 528.7L221.7 532.1L222.0 536.6L222.3 540.9L222.6 544.3L222.9 546.5L223.2 547.7L223.5 548.4L223.8 548.8L224.1 549.0L224.4 549.2L224.7 549.3L225.0 549.3L225.3 549.3L225.6 549.3L225.9 549.2L226.2 549.1L226.5 548.9L226.8 548.7L227.1 548.5L227.4 548.2L227.7 547.7L228.0 547.1L228.3 546.2L228.6 544.9L228.9 543.1L229.2 540.6L229.5 537.4L229.8 533.6L230.1 529.3L230.4 524.9L230.7 520.7L231.0 517.4L231.3 515.2L231.6 514.6L231.9 515.5L232.2 517.7L232.5 520.7L232.8 524.2L233.1 527.3L233.4 529.8L233.7 531.2L234.0 531.3L234.3 530.0L234.6 527.6L234.9 524.2L235.2 520.2L235.5 515.9L235.8 512.0L236.1 508.7L236.4 506.6L236.7 505.9L237.0 506.8L237.3 509.0L237.6 512.4L237.9 516.7L238.2 521.4L238.5 526.1L238.8 530.5L239.1 534.4L239.4 537.6L239.7 540.2L240.0 542.2L240.3 543.6L240.6 544.6L240.9 545.3L241.2 545.8L241.5 546.2L241.8 546.5L242.1 546.8L242.4 547.0L242.7 547.3L243.0 547.5L243.3 547.8L243.6 548.0L243.9 548.3L244.2 548.5L244.5 548.7L244.8 548.9L245.1 549.0L245.4 549.1L245.7 549.3L246.0 549.3L246.3 549.4L246.6 549.5L246.9 549.5L247.2 549.6L247.5 549.6L247.8 549.6L248.1 549.6L248.1 550.0Z" fill="#585858"/>
<path d="M230.6 569.9L230.6 569.3L230.9 569.2L231.2 569.1L231.5 568.9L231.8 568.7L232.1 568.4L232.4 568.0L232.7 567.5L233.0 566.6L233.3 565.3L233.6 563.2L233.9 560.0L234.2 555.6L234.5 550.0L234.8 543.7L235.1 537.4L235.4 532.2L235.7 529.3L236.0 529.0L236.3 531.6L236.6 536.3L236.9 542.0L237.2 547.5L237.5 551.9L237.8 554.4L238.1 554.8L238.4 552.9L238.7 548.9L239.0 543.5L239.3 537.4L239.6 531.9L239.9 528.1L240.2 527.1L240.5 529.0L240.8 533.6L241.1 539.7L241.4 546.5L241.7 552.7L242.0 557.8L242.3 561.6L242.6 564.3L242.9 566.0L243.2 567.1L243.5 567.8L243.8 568.2L244.1 568.5L244.4 568.8L244.7 569.0L245.0 569.1L245.3 569.3L245.6 569.3L245.9 569.4L246.2 569.4L246.5 569.4L246.8 569.4L247.1 569.4L247.4 569.3L247.7 569.1L248.0 568.7L248.3 568.1L248.6 567.0L248.9 565.6L249.2 564.2L249.5 563.2L249.8 563.1L250.1 563.8L250.4 565.1L250.7 566.4L251.0 567.5L251.3 568.1L251.6 568.3L251.9 568.2L252.2 567.7L252.5 566.7L252.8 564.9L253.1 561.9L253.4 557.9L253.7 553.3L254.0 549.4L254.3 547.5L254.6 548.3L254.9 551.5L255.2 555.8L255.5 560.1L255.8 563.5L256.1 565.6L256.4 566.6L256.7 566.9L257.0 566.3L257.3 564.9L257.6 562.5L257.9 559.0L258.2 555.1L258.5 551.7L258.8 550.1L259.1 550.9L259.4 553.7L259.7 557.7L260.0 561.5L260.3 564.6L260.6 566.6L260.9 567.8L261.2 568.5L261.5 568.9L261.8 569.1L262.1 569.3L262.4 569.4L262.7 569.4L262.7 569.9Z" fill="#000000"/>
<text x="235.1 242.1 248.1 254.6 263.0 269.1" y="580.0" font-size="10" font-weight="bold" stroke="#000" stroke-width="0.25">TRBV24</text>
<path d="M280.3 531.9L280.3 531.5L280.6 531.4L280.9 531.4L281.2 531.3L281.5 531.3L281.8 531.2L282.1 531.0L282.4 530.8L282.7 530.6L283.0 530.1L283.3 529.5L283.6 528.6L283.9 527.5L284.2 526.3L284.5 525.2L284.8 524.4L285.1 524.1L285.4 524.4L285.7 525.2L286.0 526.2L286.3 527.2L286.6 528.0L286.9 528.4L287.2 528.4L287.5 527.9L287.8 526.9L288.1 525.5L288.4 523.8L288.7 522.0L289.0 520.6L289.3 519.8L289.6 520.0L289.9 520.9L290.2 522.4L290.5 523.9L290.8 525.2L291.1 526.0L291.4 526.2L291.7 525.5L292.0 524.0L292.3 521.6L292.6 518.5L292.9 515.0L293.2 512.0L293.5 509.9L293.8 509.4L294.1 510.5L294.4 512.8L294.7 515.6L295.0 518.0L295.3 519.4L295.6 519.4L295.9 517.7L296.2 514.5L296.5 510.2L296.8 505.7L297.1 501.9L297.4 500.0L297.7 500.5L298.0 503.3L298.3 507.8L298.6 512.8L298.9 517.5L299.2 521.2L299.5 523.8L299.8 525.3L300.1 526.1L300.4 526.1L300.7 525.5L301.0 524.1L301.3 521.7L301.6 518.4L301.9 514.6L302.2 510.6L302.5 507.5L302.8 506.0L303.1 506.5L303.4 508.8L303.7 512.3L304.0 516.1L304.3 519.5L304.6 522.0L304.9 523.4L305.2 523.7L305.5 522.8L305.8 520.8L306.1 517.4L306.4 513.1L306.7 508.2L307.0 503.7L307.3 500.7L307.6 500.0L307.9 501.7L308.2 505.5L308.5 510.4L308.8 515.3L309.1 519.5L309.4 522.5L309.7 524.4L310.0 525.2L310.3 525.2L310.6 524.3L310.9 522.7L311.2 520.5L311.5 518.3L311.8 516.5L312.1 515.5L312.4 515.8L312.7 517.2L313.0 519.5L313.3 522.0L313.6 524.4L313.9 526.3L314.2 527.6L314.5 528.3L314.8 528.6L315.1 528.5L315.4 528.1L315.7 527.6L316.0 527.1L316.3 526.8L316.6 526.7L316.9 527.1L317.2 527.7L317.5 528.4L317.8 529.2L318.1 529.8L318.4 530.3L318.7 530.6L319.0 530.7L319.3 530.7L319.6 530.7L319.9 530.5L320.2 530.2L320.5 529.9L320.8 529.6L321.1 529.4L321.4 529.3L321.7 529.4L322.0 529.7L322.3 530.0L322.6 530.4L322.9 530.7L323.2 531.0L323.5 531.2L323.8 531.3L324.1 531.4L324.4 531.4L324.7 531.4L325.0 531.5L325.0 531.9Z" fill="#959595"/>
<path d="M269.00 531.56L303.38 569.97M273.41 531.56L307.78 569.97M277.82 531.56L312.19 569.97M282.22 531.56L316.60 569.97M286.63 531.56L321.01 569.97M291.04 531.56L325.41 569.97M295.45 531.56L329.82 569.97M299.85 531.56L334.23 569.97M304.26 531.56L338.64 569.97M308.67 531.56L343.04 569.97M313.08 531.56L347.45 569.97M317.48 531.56L351.86 569.97M321.89 531.56L356.27 569.97M326.30 531.56L360.68 569.97" stroke="#8e8e8e" stroke-width="0.55" fill="none"/>
<path d="M268.0 531.56h58.3" stroke="#aaa" stroke-width="0.6" fill="none"/>
<path d="M286.34 550.93h57.3" stroke="#666" stroke-width="0.6" fill="none"/>
<path d="M303.38 569.97h57.3" stroke="#444" stroke-width="0.65" fill="none"/>
<path d="M310.0 551.2L310.0 550.8L310.3 550.8L310.6 550.8L310.9 550.7L311.2 550.6L311.5 550.5L311.8 550.4L312.1 550.2L312.4 549.8L312.7 549.3L313.0 548.4L313.3 546.8L313.6 544.5L313.9 541.5L314.2 538.4L314.5 536.1L314.8 535.4L315.1 536.3L315.4 538.6L315.7 541.4L316.0 544.0L316.3 545.8L316.6 547.0L316.9 547.7L317.2 548.1L317.5 548.3L317.8 548.6L318.1 548.8L318.4 549.0L318.7 549.3L319.0 549.5L319.3 549.7L319.6 549.9L319.9 550.0L320.2 550.2L320.5 550.3L320.8 550.4L321.1 550.5L321.4 550.6L321.7 550.7L322.0 550.7L322.3 550.8L322.6 550.8L322.9 550.8L323.2 550.8L323.5 550.8L323.5 551.2Z" fill="#585858"/>
<path d="M307.0 570.3L307.0 569.9L307.3 569.8L307.6 569.7L307.9 569.4L308.2 569.1L308.5 568.6L308.8 568.2L309.1 567.9L309.4 567.9L309.7 568.2L310.0 568.6L310.3 569.1L310.6 569.4L310.9 569.7L311.2 569.8L311.5 569.9L311.8 569.9L312.1 569.9L312.4 569.9L312.7 569.9L313.0 570.0L313.3 570.0L313.6 570.0L313.9 570.0L314.2 570.0L314.5 570.0L314.8 570.0L315.1 570.0L315.4 570.0L315.7 570.0L316.0 570.0L316.3 570.0L316.6 570.0L316.9 570.0L317.2 570.0L317.5 570.0L317.8 570.0L318.1 570.0L318.4 570.0L318.7 570.0L319.0 570.0L319.3 570.0L319.6 570.0L319.9 570.0L320.2 570.0L320.5 570.0L320.8 570.0L321.1 570.0L321.4 570.0L321.7 570.0L322.0 570.0L322.3 570.0L322.6 570.0L322.9 569.9L323.2 569.9L323.5 569.9L323.8 569.9L324.1 569.8L324.4 569.8L324.7 569.7L325.0 569.6L325.3 569.4L325.6 569.2L325.9 568.8L326.2 568.1L326.5 566.8L326.8 564.7L327.1 561.4L327.4 557.0L327.7 552.5L328.0 549.0L328.3 547.7L328.6 549.1L328.9 552.6L329.2 557.0L329.5 560.9L329.8 563.7L330.1 565.1L330.4 565.4L330.7 564.6L331.0 562.5L331.3 558.9L331.6 553.3L331.9 546.1L332.2 538.2L332.5 531.4L332.8 527.3L333.1 527.3L333.4 531.4L333.7 538.3L334.0 546.2L334.3 553.6L334.6 559.3L334.9 563.3L335.2 565.7L335.5 567.2L335.8 568.0L336.1 568.6L336.4 569.0L336.7 569.2L337.0 569.4L337.3 569.6L337.6 569.7L337.9 569.8L338.2 569.9L338.2 570.3Z" fill="#000000"/>
<text x="315.6 322.6 328.6 335.1 343.5 349.6" y="580.4" font-size="10" font-weight="bold" stroke="#000" stroke-width="0.25">TRBV25</text>
<path d="M367.6 531.9L367.6 531.4L367.9 531.4L368.2 531.3L368.5 531.2L368.8 531.0L369.1 530.8L369.4 530.5L369.7 530.0L370.0 529.2L370.3 527.8L370.6 525.8L370.9 523.2L371.2 520.5L371.5 518.3L371.8 517.2L372.1 517.6L372.4 519.3L372.7 521.6L373.0 523.9L373.3 525.7L373.6 526.7L373.9 526.7L374.2 525.6L374.5 523.1L374.8 519.1L375.1 513.4L375.4 506.9L375.7 500.9L376.0 497.1L376.3 496.8L376.6 500.0L376.9 505.8L377.2 512.3L377.5 518.2L377.8 522.5L378.1 525.2L378.4 526.4L378.7 526.6L379.0 525.7L379.3 523.8L379.6 520.9L379.9 517.5L380.2 514.3L380.5 512.3L380.8 512.2L381.1 514.1L381.4 517.3L381.7 520.9L382.0 524.1L382.3 526.5L382.6 527.9L382.9 528.6L383.2 528.5L383.5 527.9L383.8 526.6L384.1 525.0L384.4 523.3L384.7 522.0L385.0 521.5L385.3 522.1L385.6 523.6L385.9 525.4L386.2 527.3L386.5 528.7L386.8 529.8L387.1 530.4L387.4 530.8L387.7 531.0L388.0 531.2L388.3 531.3L388.6 531.4L388.9 531.4L389.2 531.5L389.2 531.9Z" fill="#959595"/>
<path d="M347.20 531.56L381.58 569.97M351.61 531.56L385.98 569.97M356.02 531.56L390.39 569.97M360.42 531.56L394.80 569.97M364.83 531.56L399.21 569.97M369.24 531.56L403.61 569.97M373.65 531.56L408.02 569.97M378.05 531.56L412.43 569.97M382.46 531.56L416.84 569.97M386.87 531.56L421.24 569.97M391.28 531.56L425.65 569.97M395.68 531.56L430.06 569.97M400.09 531.56L434.47 569.97M404.50 531.56L438.88 569.97" stroke="#8e8e8e" stroke-width="0.55" fill="none"/>
<path d="M346.2 531.56h58.3" stroke="#aaa" stroke-width="0.6" fill="none"/>
<path d="M362.68 548.86h57.3" stroke="#666" stroke-width="0.6" fill="none"/>
<path d="M381.58 569.97h57.3" stroke="#444" stroke-width="0.65" fill="none"/>
<path d="M365.6 549.2L365.6 548.8L365.9 548.7L366.2 548.7L366.5 548.6L366.8 548.5L367.1 548.3L367.4 548.0L367.7 547.4L368.0 546.6L368.3 545.6L368.6 544.5L368.9 543.6L369.2 543.2L369.5 543.4L369.8 544.1L370.1 545.2L370.4 546.3L370.7 547.2L371.0 547.8L371.3 548.2L371.6 548.5L371.9 548.6L372.2 548.7L372.5 548.7L372.8 548.8L373.1 548.8L373.4 548.8L373.7 548.8L374.0 548.8L374.3 548.8L374.6 548.9L374.9 548.9L375.2 548.9L375.5 548.9L375.8 548.9L376.1 548.9L376.4 548.8L376.7 548.8L377.0 548.8L377.3 548.8L377.6 548.8L377.9 548.8L378.2 548.7L378.5 548.7L378.8 548.6L379.1 548.6L379.4 548.5L379.7 548.3L380.0 548.1L380.3 547.9L380.6 547.5L380.9 546.9L381.2 546.0L381.5 544.5L381.8 542.4L382.1 539.6L382.4 536.3L382.7 532.9L383.0 530.0L383.3 528.2L383.6 527.5L383.9 526.9L384.2 525.9L384.5 524.5L384.8 523.4L385.1 522.8L385.4 522.0L385.7 520.4L386.0 517.8L386.3 514.4L386.6 510.9L386.9 508.0L387.2 506.5L387.5 506.5L387.8 506.4L388.1 506.0L388.4 505.2L388.7 504.0L389.0 502.3L389.3 501.7L389.6 502.3L389.9 503.8L390.2 505.6L390.5 507.6L390.8 509.7L391.1 512.1L391.4 514.9L391.7 517.0L392.0 518.4L392.3 519.4L392.6 521.0L392.9 523.8L393.2 527.4L393.5 531.4L393.8 535.3L394.1 538.7L394.4 541.5L394.7 543.6L395.0 545.1L395.3 546.2L395.6 546.9L395.9 547.4L396.2 547.7L396.5 548.0L396.8 548.2L397.1 548.3L397.4 548.4L397.7 548.5L398.0 548.5L398.3 548.5L398.6 548.5L398.9 548.4L399.2 548.3L399.5 548.1L399.8 547.7L400.1 547.0L400.4 545.8L400.7 544.3L401.0 542.5L401.3 540.9L401.6 539.9L401.9 539.8L402.2 540.7L402.5 542.2L402.8 544.0L403.1 545.6L403.4 546.8L403.7 547.6L404.0 548.1L404.3 548.4L404.6 548.5L404.9 548.6L405.2 548.7L405.5 548.7L405.8 548.8L406.1 548.8L406.4 548.8L406.7 548.8L407.0 548.8L407.3 548.8L407.6 548.7L407.9 548.7L408.2 548.6L408.5 548.5L408.8 548.2L409.1 547.8L409.4 547.2L409.7 546.3L410.0 545.1L410.3 543.8L410.6 542.8L410.9 542.3L411.2 542.5L411.5 543.4L411.8 544.7L412.1 545.9L412.4 547.0L412.7 547.7L413.0 548.1L413.3 548.4L413.6 548.6L413.9 548.6L414.2 548.7L414.5 548.7L414.5 549.2Z" fill="#585858"/>
<path d="M390.2 570.3L390.2 569.9L390.5 569.9L390.8 569.8L391.1 569.8L391.4 569.7L391.7 569.7L392.0 569.6L392.3 569.5L392.6 569.4L392.9 569.2L393.2 569.0L393.5 568.8L393.8 568.5L394.1 568.1L394.4 567.5L394.7 566.7L395.0 565.4L395.3 563.4L395.6 560.3L395.9 555.9L396.2 550.3L396.5 543.9L396.8 537.7L397.1 532.8L397.4 530.3L397.7 530.9L398.0 534.2L398.3 539.5L398.6 545.5L398.9 551.1L399.2 555.6L399.5 558.7L399.8 560.3L400.1 560.6L400.4 559.9L400.7 558.6L401.0 557.1L401.3 555.6L401.6 554.6L401.9 554.4L402.2 555.0L402.5 556.2L402.8 557.8L403.1 559.2L403.4 560.4L403.7 561.0L404.0 560.8L404.3 559.8L404.6 557.8L404.9 554.3L405.2 549.5L405.5 543.6L405.8 537.2L406.1 531.5L406.4 527.7L406.7 526.8L407.0 528.9L407.3 533.7L407.6 539.9L407.9 546.3L408.2 552.0L408.5 556.3L408.8 559.1L409.1 560.4L409.4 560.6L409.7 559.9L410.0 558.7L410.3 557.4L410.6 556.4L410.9 556.1L411.2 556.6L411.5 558.0L411.8 559.8L412.1 561.9L412.4 563.9L412.7 565.5L413.0 566.8L413.3 567.6L413.6 568.2L413.9 568.6L414.2 568.8L414.5 569.0L414.8 569.2L415.1 569.3L415.4 569.4L415.7 569.5L416.0 569.6L416.3 569.7L416.6 569.7L416.9 569.7L417.2 569.8L417.5 569.8L417.8 569.8L418.1 569.9L418.4 569.9L418.4 570.3Z" fill="#000000"/>
<text x="391.8 398.7 404.8 411.2 419.7 425.8" y="580.4" font-size="10" font-weight="bold" stroke="#000" stroke-width="0.25">TRBV27</text>
<path d="M432.2 531.3L432.2 530.9L432.5 530.9L432.8 530.8L433.1 530.8L433.4 530.7L433.7 530.6L434.0 530.4L434.3 530.2L434.6 529.8L434.9 529.3L435.2 528.6L435.5 527.6L435.8 526.2L436.1 524.8L436.4 523.5L436.7 522.6L437.0 522.4L437.3 522.9L437.6 523.9L437.9 525.3L438.2 526.7L438.5 527.9L438.8 528.8L439.1 529.4L439.4 529.8L439.7 530.0L440.0 530.1L440.3 530.1L440.6 530.0L440.9 529.9L441.2 529.7L441.5 529.3L441.8 528.8L442.1 527.9L442.4 526.6L442.7 524.6L443.0 522.2L443.3 519.4L443.6 516.7L443.9 514.6L444.2 513.7L444.5 514.2L444.8 515.9L445.1 518.2L445.4 520.7L445.7 522.7L446.0 524.0L446.3 524.5L446.6 523.9L446.9 522.4L447.2 519.9L447.5 516.7L447.8 513.3L448.1 510.4L448.4 508.8L448.7 508.8L449.0 510.4L449.3 513.3L449.6 516.6L449.9 519.7L450.2 522.0L450.5 523.4L450.8 523.9L451.1 523.4L451.4 521.7L451.7 518.8L452.0 514.5L452.3 509.2L452.6 503.4L452.9 498.4L453.2 495.3L453.5 494.9L453.8 497.3L454.1 501.9L454.4 507.4L454.7 512.8L455.0 517.1L455.3 520.1L455.6 521.6L455.9 521.7L456.2 520.5L456.5 517.9L456.8 514.2L457.1 509.6L457.4 505.1L457.7 501.5L458.0 499.9L458.3 500.7L458.6 503.7L458.9 508.1L459.2 512.9L459.5 517.1L459.8 520.3L460.1 522.2L460.4 522.7L460.7 522.1L461.0 520.4L461.3 518.0L461.6 515.2L461.9 512.8L462.2 511.3L462.5 511.3L462.8 512.8L463.1 515.4L463.4 518.5L463.7 521.6L464.0 524.1L464.3 525.8L464.6 526.9L464.9 527.3L465.2 527.3L465.5 526.9L465.8 526.2L466.1 525.6L466.4 525.1L466.7 525.0L467.0 525.3L467.3 526.0L467.6 527.0L467.9 527.9L468.2 528.8L468.5 529.5L468.8 530.0L469.1 530.3L469.4 530.5L469.7 530.6L470.0 530.7L470.3 530.8L470.6 530.9L470.9 530.9L471.2 530.9L471.2 531.3Z" fill="#959595"/>
<path d="M424.40 531.04L459.24 569.97M428.81 531.04L463.65 569.97M433.22 531.04L468.06 569.97M437.62 531.04L472.46 569.97M442.03 531.04L476.87 569.97M446.44 531.04L481.28 569.97M450.85 531.04L485.69 569.97M455.25 531.04L490.09 569.97M459.66 531.04L494.50 569.97M464.07 531.04L498.91 569.97M468.48 531.04L503.32 569.97M472.88 531.04L507.72 569.97M477.29 531.04L512.13 569.97M481.70 531.04L516.54 569.97" stroke="#8e8e8e" stroke-width="0.55" fill="none"/>
<path d="M423.4 531.04h58.3" stroke="#aaa" stroke-width="0.6" fill="none"/>
<path d="M440.66 549.20h57.3" stroke="#666" stroke-width="0.6" fill="none"/>
<path d="M459.24 569.97h57.3" stroke="#444" stroke-width="0.65" fill="none"/>
<path d="M451.8 549.5L451.8 549.1L452.1 549.1L452.4 549.0L452.7 549.0L453.0 548.9L453.3 548.8L453.6 548.6L453.9 548.4L454.2 548.1L454.5 547.6L454.8 546.8L455.1 545.6L455.4 543.9L455.7 541.8L456.0 539.5L456.3 537.4L456.6 535.9L456.9 535.4L457.2 535.8L457.5 537.2L457.8 539.0L458.1 541.0L458.4 542.6L458.7 543.8L459.0 544.3L459.3 544.0L459.6 543.1L459.9 541.3L460.2 538.6L460.5 534.9L460.8 530.5L461.1 525.8L461.4 521.4L461.7 518.1L462.0 516.4L462.3 516.8L462.6 519.0L462.9 522.5L463.2 526.8L463.5 531.0L463.8 534.6L464.1 537.4L464.4 539.3L464.7 540.5L465.0 541.1L465.3 541.3L465.6 541.1L465.9 540.8L466.2 540.3L466.5 539.5L466.8 538.4L467.1 536.8L467.4 534.7L467.7 532.0L468.0 528.7L468.3 525.0L468.6 521.2L468.9 517.7L469.2 514.9L469.5 513.2L469.8 512.9L470.1 514.0L470.4 516.3L470.7 519.5L471.0 523.0L471.3 526.3L471.6 529.3L471.9 531.6L472.2 533.0L472.5 533.6L472.8 533.2L473.1 531.9L473.4 529.6L473.7 526.6L474.0 522.9L474.3 519.0L474.6 515.4L474.9 512.7L475.2 511.2L475.5 511.4L475.8 513.2L476.1 516.4L476.4 520.7L476.7 525.3L477.0 529.9L477.3 534.0L477.6 537.5L477.9 540.2L478.2 542.3L478.5 543.8L478.8 544.8L479.1 545.6L479.4 546.2L479.7 546.7L480.0 547.1L480.3 547.4L480.6 547.7L480.9 547.9L481.2 548.1L481.5 548.3L481.8 548.4L482.1 548.5L482.4 548.7L482.7 548.7L483.0 548.8L483.3 548.9L483.6 548.9L483.9 549.0L484.2 549.0L484.5 549.0L484.8 549.1L485.1 549.1L485.4 549.1L485.4 549.5Z" fill="#585858"/>
<path d="M460.9 570.3L460.9 569.9L461.2 569.9L461.5 569.8L461.8 569.8L462.1 569.8L462.4 569.7L462.7 569.7L463.0 569.6L463.3 569.6L463.6 569.5L463.9 569.4L464.2 569.2L464.5 569.1L464.8 568.8L465.1 568.6L465.4 568.1L465.7 567.5L466.0 566.6L466.3 565.3L466.6 563.4L466.9 560.9L467.2 557.9L467.5 554.8L467.8 551.8L468.1 549.6L468.4 548.4L468.7 548.6L469.0 550.1L469.3 552.5L469.6 555.4L469.9 558.4L470.2 560.9L470.5 562.9L470.8 564.4L471.1 565.3L471.4 565.8L471.7 566.0L472.0 565.8L472.3 565.4L472.6 564.5L472.9 563.4L473.2 562.3L473.5 561.5L473.8 561.3L474.1 561.9L474.4 562.8L474.7 563.8L475.0 564.5L475.3 564.9L475.6 565.1L475.9 564.9L476.2 564.6L476.5 564.1L476.8 563.2L477.1 561.8L477.4 559.9L477.7 557.6L478.0 555.1L478.3 552.9L478.6 551.4L478.9 550.9L479.2 551.7L479.5 553.4L479.8 555.8L480.1 558.2L480.4 560.5L480.7 562.2L481.0 563.4L481.3 564.1L481.6 564.5L481.9 564.5L482.2 564.1L482.5 563.3L482.8 562.0L483.1 560.2L483.4 558.0L483.7 555.9L484.0 554.3L484.3 553.5L484.6 553.9L484.9 555.3L485.2 557.4L485.5 559.8L485.8 562.2L486.1 564.2L486.4 565.7L486.7 566.7L487.0 567.4L487.3 567.9L487.6 568.2L487.9 568.5L488.2 568.6L488.5 568.8L488.8 569.0L489.1 569.1L489.4 569.2L489.7 569.3L490.0 569.4L490.3 569.4L490.6 569.5L490.9 569.5L491.2 569.6L491.5 569.6L491.8 569.7L492.1 569.7L492.4 569.7L492.7 569.8L493.0 569.8L493.3 569.8L493.6 569.8L493.9 569.8L494.2 569.9L494.5 569.9L494.8 569.9L494.8 570.3Z" fill="#000000"/>
<path d="M487.47 569.97 L488.51 563.04 L489.20 549.20 L489.72 531.90 L490.24 524.12 L491.28 521.52 L492.32 518.93 L493.36 515.47 L494.39 516.33 L495.43 515.47 L496.12 521.52 L496.64 531.90 L497.16 549.20 L497.85 563.04 L499.07 569.97Z" fill="#000000" stroke="#000000" stroke-width="0.5" stroke-linejoin="round"/>
<text x="469.6 476.6 482.6 489.1 497.5 503.6" y="580.4" font-size="10" font-weight="bold" stroke="#000" stroke-width="0.25">TRBV28</text>
<path d="M199.6 626.6L199.6 626.2L199.9 626.2L200.2 626.1L200.5 626.1L200.8 626.0L201.1 626.0L201.4 625.8L201.7 625.7L202.0 625.5L202.3 625.2L202.6 624.9L202.9 624.5L203.2 624.0L203.5 623.6L203.8 623.2L204.1 622.9L204.4 622.7L204.7 622.7L205.0 622.7L205.3 622.6L205.6 622.5L205.9 622.2L206.2 621.5L206.5 620.5L206.8 619.0L207.1 617.0L207.4 614.6L207.7 612.1L208.0 609.6L208.3 607.7L208.6 606.6L208.9 606.4L209.2 607.3L209.5 608.8L209.8 610.6L210.1 612.3L210.4 613.5L210.7 614.0L211.0 613.6L211.3 612.0L211.6 609.4L211.9 605.7L212.2 601.4L212.5 596.9L212.8 592.9L213.1 590.2L213.4 589.1L213.7 589.9L214.0 592.3L214.3 595.7L214.6 599.3L214.9 602.4L215.2 604.4L215.5 604.9L215.8 603.7L216.1 600.8L216.4 596.7L216.7 592.0L217.0 587.4L217.3 583.9L217.6 582.3L217.9 582.8L218.2 585.6L218.5 590.0L218.8 595.2L219.1 600.3L219.4 604.8L219.7 608.0L220.0 609.9L220.3 610.5L220.6 609.8L220.9 608.0L221.2 605.6L221.5 602.9L221.8 600.5L222.1 598.9L222.4 598.7L222.7 599.8L223.0 602.1L223.3 605.1L223.6 608.5L223.9 611.6L224.2 614.1L224.5 615.8L224.8 616.7L225.1 616.8L225.4 616.3L225.7 615.3L226.0 614.2L226.3 613.1L226.6 612.5L226.9 612.5L227.2 613.2L227.5 614.4L227.8 616.0L228.1 617.8L228.4 619.4L228.7 620.8L229.0 621.9L229.3 622.5L229.6 622.9L229.9 623.0L230.2 622.9L230.5 622.7L230.8 622.5L231.1 622.3L231.4 622.3L231.7 622.4L232.0 622.7L232.3 623.2L232.6 623.7L232.9 624.2L233.2 624.7L233.5 625.1L233.8 625.4L234.1 625.6L234.4 625.8L234.7 625.9L235.0 626.0L235.3 626.0L235.6 626.1L235.9 626.1L236.2 626.2L236.5 626.2L236.5 626.6Z" fill="#959595"/>
<path d="M190.80 626.31L224.87 664.37M195.21 626.31L229.27 664.37M199.62 626.31L233.68 664.37M204.02 626.31L238.09 664.37M208.43 626.31L242.50 664.37M212.84 626.31L246.90 664.37M217.25 626.31L251.31 664.37M221.65 626.31L255.72 664.37M226.06 626.31L260.13 664.37M230.47 626.31L264.53 664.37M234.88 626.31L268.94 664.37M239.28 626.31L273.35 664.37M243.69 626.31L277.76 664.37M248.10 626.31L282.17 664.37" stroke="#8e8e8e" stroke-width="0.55" fill="none"/>
<path d="M189.8 626.31h58.3" stroke="#aaa" stroke-width="0.6" fill="none"/>
<path d="M207.06 644.47h57.3" stroke="#666" stroke-width="0.6" fill="none"/>
<path d="M224.87 664.37h57.3" stroke="#444" stroke-width="0.65" fill="none"/>
<path d="M216.5 644.8L216.5 644.2L216.8 644.0L217.1 643.9L217.4 643.7L217.7 643.5L218.0 643.2L218.3 642.8L218.6 642.3L218.9 641.5L219.2 640.3L219.5 638.5L219.8 635.7L220.1 631.7L220.4 626.5L220.7 620.2L221.0 613.4L221.3 607.0L221.6 602.1L221.9 599.7L222.2 600.2L222.5 603.5L222.8 609.0L223.1 615.6L223.4 622.4L223.7 628.4L224.0 633.2L224.3 636.7L224.6 639.2L224.9 640.8L225.2 641.8L225.5 642.5L225.8 643.0L226.1 643.3L226.4 643.6L226.7 643.8L227.0 644.0L227.3 644.1L227.3 644.8Z" fill="#585858"/>
<path d="M224.4 664.7L224.4 664.1L224.7 664.0L225.0 663.8L225.3 663.6L225.6 663.2L225.9 662.7L226.2 661.9L226.5 660.3L226.8 657.4L227.1 652.9L227.4 646.5L227.7 639.2L228.0 632.7L228.3 629.2L228.6 629.9L228.9 634.6L229.2 641.6L229.5 648.8L229.8 654.6L230.1 658.6L230.4 660.9L230.7 662.2L231.0 662.9L231.3 663.3L231.6 663.6L231.9 663.8L232.2 664.0L232.5 664.0L232.8 664.0L233.1 664.0L233.4 663.9L233.7 663.8L234.0 663.6L234.3 663.3L234.6 662.9L234.9 662.2L235.2 661.2L235.5 659.4L235.8 656.4L236.1 651.9L236.4 645.8L236.7 638.7L237.0 631.9L237.3 627.0L237.6 625.5L237.9 627.7L238.2 633.1L238.5 640.0L238.8 647.0L239.1 652.7L239.4 656.7L239.7 659.2L240.0 660.6L240.3 661.1L240.6 661.1L240.9 660.5L241.2 659.6L241.5 658.6L241.8 657.3L242.1 655.9L242.4 653.9L242.7 650.8L243.0 646.2L243.3 640.0L243.6 633.1L243.9 626.6L244.2 621.9L244.5 620.3L244.8 622.1L245.1 626.9L245.4 633.5L245.7 640.4L246.0 646.5L246.3 650.8L246.6 653.3L246.9 654.2L247.2 653.9L247.5 653.3L247.8 653.0L248.1 653.4L248.4 654.7L248.7 656.5L249.0 658.5L249.3 660.3L249.6 661.7L249.9 662.7L250.2 663.3L250.5 663.7L250.8 663.9L251.1 664.0L251.4 664.1L251.7 664.2L252.0 664.2L252.3 664.3L252.6 664.3L252.9 664.3L253.2 664.3L253.5 664.3L253.8 664.3L254.1 664.3L254.4 664.3L254.7 664.3L255.0 664.2L255.3 664.2L255.6 664.1L255.9 663.9L256.2 663.5L256.5 662.9L256.8 662.0L257.1 660.9L257.4 659.8L257.7 659.2L258.0 659.3L258.3 660.1L258.6 661.2L258.9 662.3L259.2 663.1L259.5 663.7L259.8 664.0L260.1 664.1L260.4 664.2L260.7 664.3L261.0 664.3L261.0 664.7Z" fill="#000000"/>
<text x="235.1 242.1 248.1 254.6 263.0 269.1" y="673.6" font-size="10" font-weight="bold" stroke="#000" stroke-width="0.25">TRBV29</text>
<path d="M280.0 626.6L280.0 626.2L280.3 626.1L280.6 626.1L280.9 626.0L281.2 625.9L281.5 625.8L281.8 625.6L282.1 625.4L282.4 625.1L282.7 624.7L283.0 624.1L283.3 623.3L283.6 622.2L283.9 621.0L284.2 619.7L284.5 618.6L284.8 617.8L285.1 617.7L285.4 618.0L285.7 618.9L286.0 619.9L286.3 621.0L286.6 621.8L286.9 622.3L287.2 622.5L287.5 622.2L287.8 621.5L288.1 620.3L288.4 618.6L288.7 616.8L289.0 614.9L289.3 613.4L289.6 612.6L289.9 612.5L290.2 613.2L290.5 614.3L290.8 615.5L291.1 616.4L291.4 616.8L291.7 616.3L292.0 614.7L292.3 611.8L292.6 607.6L292.9 602.1L293.2 595.9L293.5 589.9L293.8 585.3L294.1 583.1L294.4 583.9L294.7 587.4L295.0 592.8L295.3 598.9L295.6 604.6L295.9 609.3L296.2 612.6L296.5 614.4L296.8 614.9L297.1 614.3L297.4 612.6L297.7 610.2L298.0 607.4L298.3 604.9L298.6 603.3L298.9 603.0L299.2 604.2L299.5 606.5L299.8 609.6L300.1 612.7L300.4 615.3L300.7 617.2L301.0 618.2L301.3 618.3L301.6 617.5L301.9 616.2L302.2 614.4L302.5 612.6L302.8 611.3L303.1 610.7L303.4 611.1L303.7 612.5L304.0 614.4L304.3 616.6L304.6 618.6L304.9 620.2L305.2 621.3L305.5 621.9L305.8 621.9L306.1 621.6L306.4 621.0L306.7 620.3L307.0 619.7L307.3 619.4L307.6 619.5L307.9 620.0L308.2 620.8L308.5 621.8L308.8 622.8L309.1 623.7L309.4 624.4L309.7 624.9L310.0 625.3L310.3 625.5L310.6 625.7L310.9 625.9L311.2 626.0L311.5 626.0L311.8 626.1L312.1 626.2L312.4 626.2L312.4 626.6Z" fill="#959595"/>
<path d="M269.00 626.31L303.53 664.89M273.41 626.31L307.94 664.89M277.82 626.31L312.35 664.89M282.22 626.31L316.75 664.89M286.63 626.31L321.16 664.89M291.04 626.31L325.57 664.89M295.45 626.31L329.98 664.89M299.85 626.31L334.38 664.89M304.26 626.31L338.79 664.89M308.67 626.31L343.20 664.89M313.08 626.31L347.61 664.89M317.48 626.31L352.01 664.89M321.89 626.31L356.42 664.89M326.30 626.31L360.83 664.89" stroke="#8e8e8e" stroke-width="0.55" fill="none"/>
<path d="M268.0 626.31h58.3" stroke="#aaa" stroke-width="0.6" fill="none"/>
<path d="M285.72 644.99h57.3" stroke="#666" stroke-width="0.6" fill="none"/>
<path d="M303.53 664.89h57.3" stroke="#444" stroke-width="0.65" fill="none"/>
<path d="M311.7 645.3L311.7 644.9L312.0 644.8L312.3 644.8L312.6 644.7L312.9 644.6L313.2 644.4L313.5 644.2L313.8 643.7L314.1 643.0L314.4 641.9L314.7 640.1L315.0 637.7L315.3 634.8L315.6 631.9L315.9 629.8L316.2 628.9L316.5 629.6L316.8 631.5L317.1 634.1L317.4 636.6L317.7 638.5L318.0 639.4L318.3 639.0L318.6 637.3L318.9 634.4L319.2 630.5L319.5 626.3L319.8 622.9L320.1 621.2L320.4 621.7L320.7 624.3L321.0 628.1L321.3 632.2L321.6 635.5L321.9 637.6L322.2 638.3L322.5 637.5L322.8 635.5L323.1 632.7L323.4 629.9L323.7 627.8L324.0 627.2L324.3 628.2L324.6 630.7L324.9 633.8L325.2 637.0L325.5 639.7L325.8 641.6L326.1 642.9L326.4 643.6L326.7 644.1L327.0 644.3L327.3 644.5L327.6 644.7L327.9 644.7L328.2 644.8L328.2 645.3Z" fill="#585858"/>
<path d="M315.7 665.2L315.7 664.6L316.0 664.5L316.3 664.3L316.6 664.1L316.9 663.8L317.2 663.4L317.5 662.7L317.8 661.7L318.1 659.9L318.4 656.9L318.7 652.3L319.0 646.0L319.3 638.6L319.6 631.3L319.9 625.8L320.2 623.7L320.5 625.5L320.8 630.5L321.1 637.2L321.4 643.8L321.7 649.1L322.0 652.9L322.3 655.4L322.6 657.0L322.9 657.9L323.2 658.0L323.5 657.2L323.8 655.4L324.1 653.2L324.4 651.1L324.7 649.8L325.0 649.9L325.3 651.2L325.6 653.6L325.9 656.4L326.2 658.9L326.5 660.9L326.8 662.2L327.1 662.9L327.4 663.1L327.7 662.8L328.0 661.9L328.3 660.6L328.6 659.1L328.9 657.9L329.2 657.5L329.5 658.0L329.8 659.3L330.1 661.0L330.4 662.4L330.7 663.4L331.0 664.0L331.3 664.3L331.6 664.4L331.9 664.3L332.2 664.2L332.5 663.8L332.8 663.2L333.1 662.4L333.4 661.5L333.7 661.0L334.0 661.0L334.3 661.5L334.6 662.3L334.9 663.1L335.2 663.8L335.5 664.3L335.8 664.5L336.1 664.7L336.4 664.7L336.7 664.8L336.7 665.2Z" fill="#000000"/>
<text x="314.8 321.7 327.8 334.2 342.7 348.8" y="673.7" font-size="10" font-weight="bold" stroke="#000" stroke-width="0.25">TRBV30</text>
<path d="M339 626.5H369.5" stroke="#000" stroke-width="1.5"/>
<text x="379.3" y="630.7" font-size="17.1" font-weight="bold">control</text>
<path d="M354.8 644.8H386" stroke="#000" stroke-width="1.5"/>
<text x="395.8" y="649.0" font-size="17.1" font-weight="bold">RAG-deficient</text>
<path d="M370 665H401" stroke="#000" stroke-width="1.5"/>
<text x="414" y="669.2" font-size="17.1" font-weight="bold">patient</text>
</svg>
</body></html>
